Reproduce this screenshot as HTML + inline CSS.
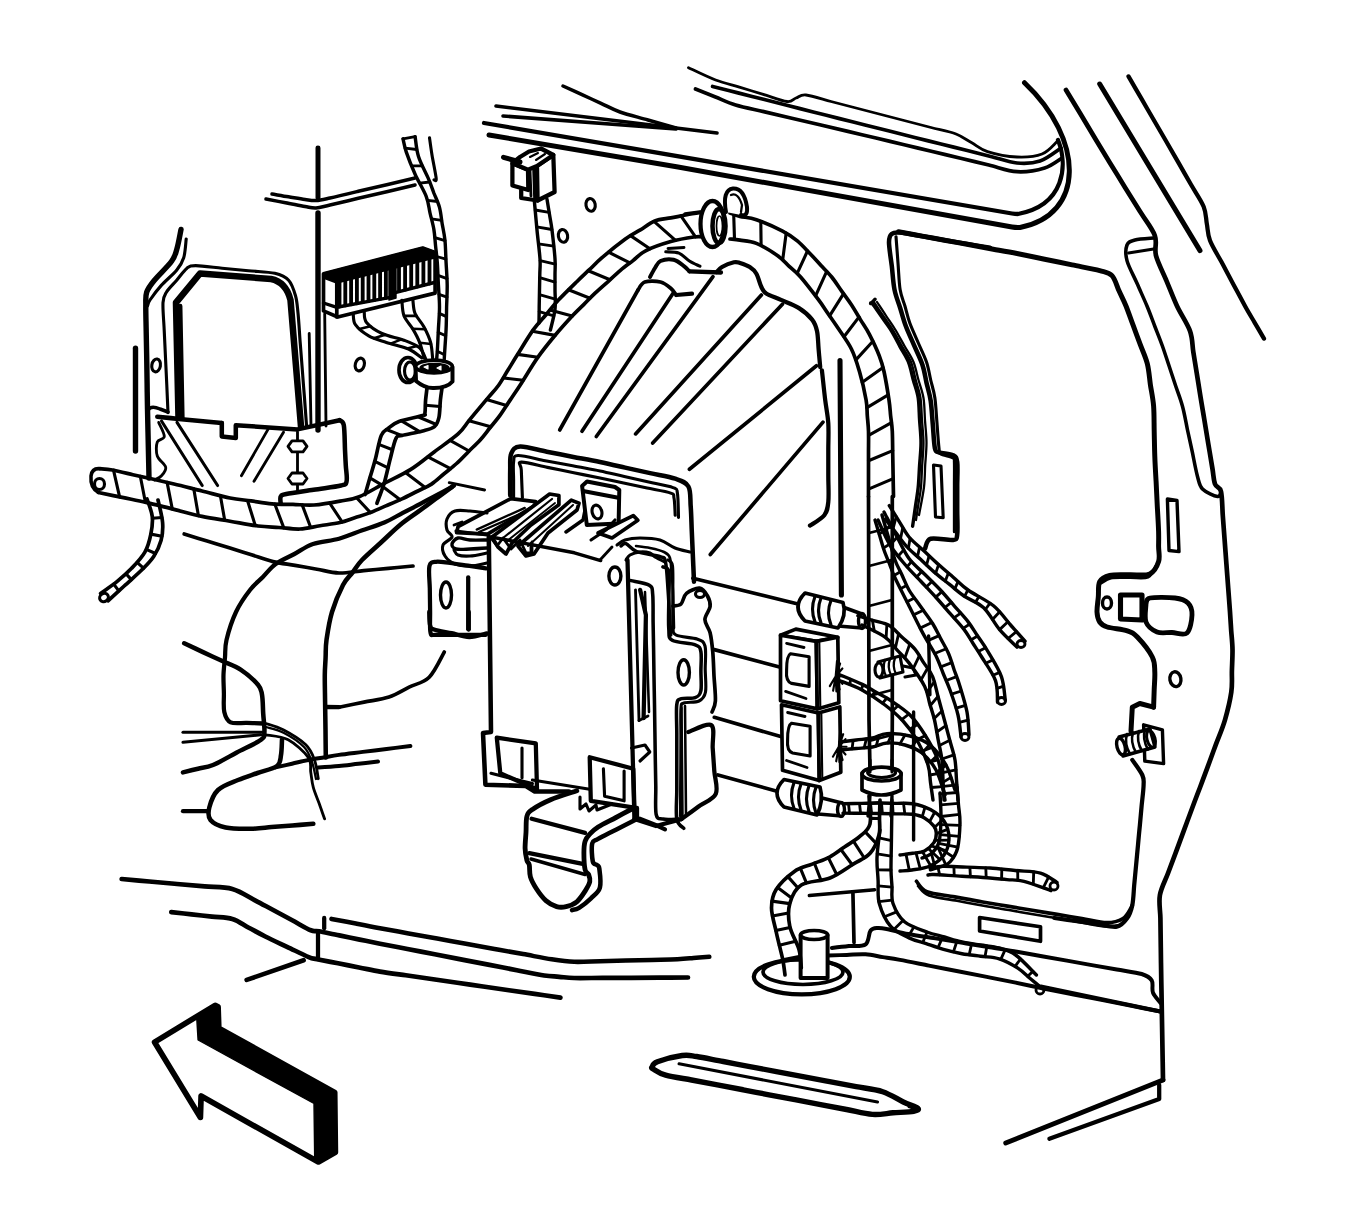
<!DOCTYPE html>
<html><head><meta charset="utf-8"><style>
html,body{margin:0;padding:0;background:#fff;width:1355px;height:1221px;overflow:hidden;font-family:"Liberation Sans",sans-serif;}
svg{display:block}
</style></head><body>
<svg width="1355" height="1221" viewBox="0 0 1355 1221">
<g fill="none" stroke="#000" stroke-linecap="round" stroke-linejoin="round">
<path d="M496.0,106.0 L717.0,133.0" stroke-width="3.55"/>
<path d="M503.0,116.0 L676.0,129.0" stroke-width="3.55"/>
<path d="M563.0,86.0 C566.2,87.4 575.7,91.8 582.0,94.7 C588.3,97.6 594.7,100.4 601.0,103.3 C607.3,106.2 612.2,109.2 620.0,112.0 C627.8,114.8 638.7,117.3 648.0,120.0 C657.3,122.7 671.3,126.7 676.0,128.0" stroke-width="3.55"/>
<path d="M688.5,67.7 C693.0,69.8 707.1,76.8 715.6,80.0 C724.1,83.2 731.5,84.8 739.4,87.2 C747.3,89.6 755.3,91.9 763.2,94.3 C771.1,96.7 781.5,100.9 787.0,101.5 C792.5,102.1 792.8,99.1 796.0,98.0 C799.2,96.9 800.2,94.4 806.0,95.0 C811.8,95.6 822.7,99.3 831.0,101.5 C839.3,103.7 847.7,105.8 856.0,108.0 C864.3,110.2 872.7,112.3 881.0,114.5 C889.3,116.7 897.7,118.8 906.0,121.0 C914.3,123.2 922.7,125.3 931.0,127.5 C939.3,129.7 949.2,131.4 956.0,134.0 C962.8,136.6 966.5,139.9 971.8,142.8 C977.0,145.7 980.0,149.2 987.5,151.6 C995.0,154.0 1007.9,156.6 1017.0,157.0 C1026.1,157.4 1035.3,156.6 1042.0,154.0 C1048.7,151.4 1054.5,143.7 1057.0,141.6" stroke-width="2.84"/>
<path d="M712.6,86.5 C716.8,87.6 729.5,90.8 738.0,92.9 C746.5,95.1 754.9,97.2 763.4,99.3 C771.9,101.5 780.3,103.6 788.8,105.8 C797.3,107.9 805.7,110.0 814.2,112.2 C822.7,114.3 831.1,116.4 839.6,118.6 C848.1,120.7 856.5,122.9 865.0,125.0 C873.5,127.1 881.9,129.2 890.3,131.3 C898.8,133.4 907.2,135.6 915.7,137.7 C924.1,139.8 932.6,141.9 941.0,144.0 C949.4,146.1 957.9,148.2 966.3,150.3 C974.8,152.4 983.2,154.6 991.7,156.7 C1000.1,158.8 1008.9,162.3 1017.0,163.0 C1025.1,163.7 1032.7,163.5 1040.0,161.0 C1047.3,158.5 1057.5,150.2 1061.0,148.0" stroke-width="3.69"/>
<path d="M695.5,89.0 C698.8,90.3 708.9,94.3 715.5,97.0 C722.2,99.7 727.6,102.6 735.6,105.0 C743.6,107.4 754.3,109.4 763.7,111.6 C773.0,113.8 782.4,116.0 791.8,118.2 C801.1,120.4 810.5,122.6 819.8,124.8 C829.2,127.0 838.6,129.2 847.9,131.4 C857.3,133.6 866.6,135.8 876.0,138.0 C885.4,140.2 894.8,142.5 904.2,144.7 C913.6,147.0 923.0,149.2 932.4,151.5 C941.8,153.7 951.2,156.0 960.6,158.2 C970.0,160.5 979.4,162.7 988.8,165.0 C998.2,167.2 1007.7,171.2 1017.0,171.7 C1026.3,172.2 1037.1,170.3 1044.6,168.0 C1052.1,165.7 1059.1,159.7 1062.0,158.0" stroke-width="3.69"/>
<path d="M489,135 L678,167 L1012,227 Q1016,227.7 1020,227.5 C1085,215 1085,140 1024.5,82.7" stroke-width="4.97"/>
<path d="M484,123 L1012,213.5 Q1015,214 1018,214 C1065,205 1068,165 1058,140" stroke-width="4.26"/>
<path d="M1066.0,90.0 C1068.4,94.1 1075.8,106.2 1080.7,114.3 C1085.6,122.4 1090.4,130.6 1095.3,138.7 C1100.2,146.8 1105.1,154.9 1110.0,163.0 C1114.9,171.1 1120.0,179.1 1124.9,187.2 C1129.9,195.2 1134.9,203.3 1139.9,211.3 C1144.8,219.4 1152.1,228.1 1154.8,235.5 C1157.5,242.9 1154.0,248.0 1156.0,255.6 C1158.0,263.1 1163.0,272.4 1166.5,280.8 C1170.0,289.2 1173.1,297.6 1177.0,306.0 C1180.9,314.4 1187.3,323.4 1190.0,331.0 C1192.7,338.6 1192.2,344.9 1193.3,351.9 C1194.4,358.9 1195.6,365.8 1196.7,372.8 C1197.8,379.8 1198.8,386.0 1200.0,393.7 C1201.2,401.4 1202.8,410.4 1204.2,418.8 C1205.6,427.2 1206.9,435.5 1208.3,443.9 C1209.7,452.3 1211.4,462.3 1212.5,469.0 C1213.6,475.7 1213.6,480.2 1215.0,484.0 C1216.4,487.8 1219.7,486.2 1221.0,491.5 C1222.3,496.8 1222.2,507.6 1222.8,515.6 C1223.4,523.6 1224.0,531.7 1224.6,539.7 C1225.2,547.7 1225.8,555.8 1226.4,563.8 C1227.0,571.8 1227.6,579.9 1228.2,587.9 C1228.8,595.9 1229.5,604.9 1230.0,612.0 C1230.5,619.1 1230.8,624.5 1231.2,630.8 C1231.7,637.1 1232.4,642.9 1232.5,649.6 C1232.6,656.3 1232.1,663.8 1231.9,670.9 C1231.7,678.0 1232.5,684.1 1231.3,692.2 C1230.1,700.4 1227.5,711.2 1225.0,719.8 C1222.5,728.4 1219.2,735.7 1216.2,743.6 C1213.3,751.5 1210.2,760.1 1207.5,767.4 C1204.8,774.7 1202.5,780.8 1200.0,787.5 C1197.4,794.1 1195.0,800.5 1192.4,807.5 C1189.8,814.5 1187.0,822.1 1184.3,829.4 C1181.6,836.7 1178.9,844.0 1176.2,851.4 C1173.4,858.7 1170.7,866.0 1168.0,873.3 C1165.3,880.6 1161.2,887.7 1159.9,895.2 C1158.6,902.7 1160.3,910.5 1160.4,918.0 C1160.5,925.5 1160.6,933.0 1160.7,940.5 C1160.8,948.0 1160.9,954.4 1161.0,963.0 C1161.1,971.6 1161.3,982.5 1161.5,992.2 C1161.7,1002.0 1161.8,1011.8 1162.0,1021.5 C1162.2,1031.2 1162.3,1041.0 1162.5,1050.8 C1162.7,1060.5 1162.9,1075.1 1163.0,1080.0" stroke-width="4.69"/>
<path d="M1099.7,84.0 L1200.0,250.6" stroke-width="4.97"/>
<path d="M1128.5,76.4 C1130.6,80.0 1136.8,90.8 1141.0,97.9 C1145.2,105.1 1149.3,112.3 1153.5,119.5 C1157.7,126.6 1161.8,133.8 1166.0,141.0 C1170.2,148.2 1174.4,155.6 1178.6,162.9 C1182.8,170.2 1186.9,177.5 1191.1,184.8 C1195.3,192.1 1201.1,200.2 1203.7,206.7 C1206.3,213.2 1205.8,218.0 1206.8,223.6 C1207.9,229.2 1207.5,234.0 1210.0,240.5 C1212.5,247.0 1217.8,255.1 1221.7,262.3 C1225.6,269.6 1229.4,276.9 1233.3,284.2 C1237.2,291.4 1241.5,299.6 1245.0,306.0 C1248.5,312.4 1251.3,316.9 1254.5,322.3 C1257.7,327.7 1262.4,335.9 1264.0,338.6" stroke-width="4.26"/>
<path d="M1153.6,238.0 C1150.5,238.3 1139.4,238.8 1135.0,240.0 C1130.6,241.2 1128.3,241.6 1127.0,245.0 C1125.7,248.4 1125.3,254.2 1127.0,260.6 C1128.7,267.0 1133.7,275.7 1137.0,283.3 C1140.3,290.9 1144.0,298.9 1147.0,306.0 C1150.0,313.1 1152.1,319.3 1154.7,326.0 C1157.3,332.7 1160.0,339.3 1162.4,346.0 C1164.8,352.7 1166.8,359.3 1169.1,366.0 C1171.3,372.7 1173.5,379.3 1175.7,386.0 C1178.0,392.7 1180.5,398.8 1182.4,406.0 C1184.4,413.2 1185.8,421.6 1187.4,429.5 C1189.1,437.3 1190.8,445.1 1192.5,452.9 C1194.1,460.8 1195.8,470.4 1197.5,476.4 C1199.2,482.4 1199.2,485.6 1202.5,489.0 C1205.8,492.4 1214.4,496.1 1217.5,496.5 C1220.6,496.9 1220.4,492.3 1221.0,491.5" stroke-width="3.55"/>
<path d="M1128.5,253.0 L1153.6,249.0" stroke-width="2.84"/>
<path d="M898.5,231.8 C902.5,232.5 914.3,234.7 922.2,236.1 C930.1,237.6 938.0,239.0 945.9,240.5 C953.8,241.9 961.7,243.4 969.6,244.8 C977.5,246.3 985.4,247.7 993.3,249.2 C1001.2,250.6 1008.5,251.8 1017.0,253.5 C1025.5,255.2 1035.4,257.3 1044.6,259.2 C1053.8,261.1 1062.9,263.0 1072.1,264.9 C1081.3,266.8 1093.1,268.8 1099.7,270.6 C1106.3,272.4 1108.8,272.2 1112.0,275.6 C1115.2,279.0 1116.7,285.7 1119.0,290.8 C1121.3,295.9 1123.7,300.3 1126.0,306.0 C1128.3,311.7 1130.7,318.8 1133.1,325.2 C1135.5,331.6 1137.8,338.0 1140.2,344.4 C1142.6,350.8 1145.6,356.9 1147.3,363.6 C1149.0,370.3 1149.4,377.7 1150.4,384.8 C1151.5,391.9 1153.0,398.3 1153.6,406.0 C1154.2,413.7 1154.0,422.8 1154.2,431.2 C1154.4,439.6 1154.5,448.0 1154.8,456.4 C1155.1,464.8 1155.6,473.1 1156.1,481.5 C1156.5,489.8 1156.9,498.2 1157.3,506.5 C1157.8,514.9 1158.4,524.9 1158.6,531.6 C1158.8,538.3 1158.6,541.6 1158.6,546.6 C1158.6,551.6 1160.1,557.0 1158.6,561.6 C1157.1,566.2 1154.6,571.8 1149.8,574.0 C1145.0,576.2 1136.4,574.5 1129.8,574.7 C1123.1,574.9 1114.7,574.2 1109.7,575.4 C1104.7,576.6 1101.6,578.1 1099.7,581.7 C1097.8,585.3 1098.8,591.8 1098.3,596.9 C1097.9,601.9 1096.8,607.8 1097.0,612.0 C1097.2,616.2 1098.0,619.5 1099.7,622.0 C1101.4,624.5 1102.6,625.5 1107.2,627.0 C1111.8,628.5 1122.3,629.1 1127.3,630.8 C1132.3,632.5 1133.1,632.6 1137.3,637.0 C1141.5,641.4 1149.4,651.2 1152.3,657.0 C1155.2,662.8 1154.5,666.6 1154.8,672.0 C1155.1,677.4 1154.4,683.7 1154.2,689.6 C1154.0,695.5 1153.7,704.3 1153.6,707.2" stroke-width="4.97"/>
<path d="M1153.6,707.2 L1139.8,703.5 L1132.3,707.2 L1131.0,731.0" stroke-width="4.97"/>
<path d="M1101.0,583.0 C1102.7,582.2 1106.2,578.9 1111.0,578.0 C1115.8,577.1 1123.3,577.7 1129.5,577.5 C1135.7,577.3 1143.6,578.9 1148.0,577.0 C1152.4,575.1 1154.7,567.8 1156.0,566.0" stroke-width="3.12"/>
<path d="M1132.3,759.9 C1134.0,762.4 1140.4,770.8 1142.3,775.0 C1144.2,779.2 1143.7,780.0 1143.6,785.0 C1143.5,790.0 1142.4,798.3 1141.7,805.0 C1141.1,811.7 1140.5,818.3 1139.9,825.0 C1139.2,831.7 1138.6,838.3 1138.0,845.0 C1137.4,851.7 1136.7,858.4 1136.1,865.1 C1135.5,871.8 1134.8,878.4 1134.2,885.1 C1133.6,891.8 1133.5,899.7 1132.3,905.2 C1131.1,910.7 1129.9,914.4 1127.3,918.0 C1124.7,921.6 1122.0,925.7 1116.8,926.7 C1111.6,927.7 1102.9,924.8 1096.0,923.8 C1089.1,922.8 1082.1,921.9 1075.2,920.9 C1068.3,919.9 1057.9,918.5 1054.4,918.0" stroke-width="4.26"/>
<path d="M318.0,148.0 L318.0,198.0" stroke-width="4.97"/>
<path d="M318.0,213.0 L318.0,430.0" stroke-width="5.40"/>
<path d="M309.2,333.5 L311.0,426.0" stroke-width="2.84"/>
<path d="M324.7,313.8 L326.0,426.0" stroke-width="2.84"/>
<path d="M135.5,348.2 L135.5,451.0" stroke-width="5.40"/>
<path d="M272.0,194.0 C274.8,194.5 283.0,195.8 288.5,196.8 C294.0,197.7 300.4,198.9 305.0,199.5 C309.6,200.1 311.8,200.8 316.0,200.5 C320.2,200.2 322.9,199.5 330.0,198.0 C337.1,196.5 348.9,193.6 358.3,191.3 C367.8,189.1 377.2,186.9 386.7,184.7 C396.1,182.4 410.3,179.1 415.0,178.0" stroke-width="3.55"/>
<path d="M266.0,199.0 C269.2,199.6 279.0,201.5 285.5,202.8 C292.0,204.0 299.9,205.6 305.0,206.5 C310.1,207.4 311.8,208.2 316.0,208.0 C320.2,207.8 322.9,206.6 330.0,205.0 C337.1,203.4 348.9,200.6 358.3,198.3 C367.8,196.1 377.2,193.9 386.7,191.7 C396.1,189.4 410.3,186.1 415.0,185.0" stroke-width="3.55"/>
<path d="M181.0,229.5 C180.3,232.8 178.4,243.9 176.8,249.2 C175.2,254.5 175.3,256.1 171.6,261.3 C167.9,266.5 158.6,275.1 154.4,280.2 C150.2,285.3 148.1,287.9 146.7,292.2 C145.3,296.5 145.9,299.4 145.8,306.0 C145.7,312.6 146.1,323.2 146.2,331.8 C146.4,340.3 146.5,348.9 146.7,357.5 C146.8,366.1 146.9,374.7 147.1,383.2 C147.2,391.8 147.3,400.9 147.5,409.0 C147.7,417.1 147.8,424.3 148.0,432.0 C148.2,439.7 148.3,447.3 148.5,455.0 C148.7,462.7 148.9,474.2 149.0,478.0" stroke-width="5.40"/>
<path d="M186.2,239.0 C185.8,242.1 185.3,252.6 183.7,257.8 C182.1,263.0 180.5,265.4 176.8,270.0 C173.1,274.6 165.8,280.4 161.3,285.4 C156.8,290.4 152.3,296.6 150.0,300.0 C147.7,303.4 147.9,305.0 147.5,306.0" stroke-width="3.12"/>
<path d="M168.0,412.7 C167.8,408.1 167.2,394.4 166.8,385.2 C166.3,376.0 165.9,366.8 165.5,357.6 C165.1,348.5 164.7,339.3 164.2,330.1 C163.8,320.9 162.6,308.9 163.0,302.6 C163.4,296.3 164.1,295.9 166.4,292.2 C168.7,288.5 173.3,284.2 176.7,280.2 C180.1,276.2 183.8,270.6 187.0,268.2 C190.2,265.8 189.9,265.6 195.7,265.6 C201.5,265.6 213.3,267.3 222.1,268.2 C230.9,269.0 239.6,269.9 248.4,270.7 C257.2,271.6 268.1,271.7 274.8,273.3 C281.5,274.9 285.2,276.5 288.6,280.2 C292.1,283.9 293.9,290.2 295.5,295.7 C297.1,301.2 297.2,305.4 298.0,313.0 C298.8,320.6 299.4,331.9 300.1,341.4 C300.9,350.8 301.6,360.2 302.3,369.7 C303.0,379.1 303.7,388.6 304.5,398.0 C305.2,407.5 306.2,421.7 306.6,426.4" stroke-width="3.12"/>
<path d="M178.5,417.8 L176,302.6 L200,273.5 L271,279 Q286,282 290.5,300 L301,426.4" stroke-width="6.53"/>
<path d="M182.5,417.8 L180.3,306" stroke-width="4.26"/>
<ellipse cx="156.1" cy="365.4" rx="4.3" ry="6.5" stroke-width="3.12" transform="rotate(10 156.1 365.4)"/>
<path d="M148,410 Q151,405 160,409 L168,412" stroke-width="3.55"/>
<path d="M157.3,416.8 C160.9,417.1 171.6,418.2 178.8,418.9 C186.0,419.6 193.1,420.2 200.3,420.9 C207.5,421.6 218.2,422.7 221.8,423.0" stroke-width="4.54"/>
<path d="M221.8,423.0 L221.8,436.5 L235.8,437.9 L235.8,425.2 L297.5,429.4 L339.6,420.2" stroke-width="4.54"/>
<path d="M339.6,420.2 C340.3,421.0 342.9,420.2 343.8,425.2 C344.7,430.2 344.7,443.3 345.0,450.0 C345.3,456.7 345.5,460.4 345.8,465.6 C346.1,470.9 347.4,478.0 346.6,481.3 C345.8,484.6 346.5,484.1 341.0,485.5 C335.5,486.9 322.8,488.3 313.6,489.8 C304.5,491.2 291.8,492.8 286.3,494.0 C280.8,495.2 281.6,495.1 280.7,496.7 C279.8,498.3 280.7,502.6 280.7,503.8" stroke-width="4.54"/>
<path d="M158.7,422.4 C159.6,424.8 164.5,433.2 164.3,436.5 C164.1,439.8 158.5,438.8 157.3,442.0 C156.1,445.2 155.9,451.8 157.3,456.0 C158.7,460.2 165.0,464.0 165.7,467.3 C166.4,470.6 163.4,473.6 161.5,475.7 C159.6,477.8 155.7,479.3 154.5,480.0" stroke-width="2.84"/>
<path d="M161.5,421.0 L202.2,485.5" stroke-width="3.12"/>
<path d="M177.0,422.4 L217.6,485.5" stroke-width="3.12"/>
<path d="M268.0,429.4 L241.4,475.7" stroke-width="2.84"/>
<path d="M283.5,432.2 L254.0,481.3" stroke-width="2.84"/>
<path d="M297.5,432.0 L297.5,492.5" stroke-width="2.84"/>
<path d="M288.0,446.3 L292.0,440.8 L303.0,440.8 L307.0,446.3 L303.0,451.8 L292.0,451.8 Z" stroke-width="2.84" fill="#fff"/>
<path d="M288.0,478.5 L292.0,473.0 L303.0,473.0 L307.0,478.5 L303.0,484.0 L292.0,484.0 Z" stroke-width="2.84" fill="#fff"/>
<path d="M99.8,468.7 C101.9,468.9 106.9,469.0 112.4,470.0 C117.9,471.0 126.1,473.1 132.9,474.7 C139.8,476.2 146.6,477.8 153.5,479.3 C160.3,480.9 165.9,482.1 174.0,484.0 C182.1,485.9 192.7,488.7 202.0,491.0 C211.3,493.3 221.8,496.4 230.0,498.0 C238.2,499.6 244.0,499.9 251.0,500.9 C258.0,501.9 265.0,503.2 272.0,503.8 C279.0,504.4 286.0,504.2 293.0,504.4 C300.0,504.6 306.2,505.6 314.0,505.0 C321.8,504.4 332.5,502.5 340.0,501.1 C347.5,499.7 351.8,499.6 359.2,496.7 C366.6,493.8 375.7,487.9 384.3,483.4 C392.9,478.8 402.4,474.7 410.8,469.4 C419.2,464.1 426.6,457.6 434.5,451.7 C442.4,445.8 452.5,438.9 458.1,433.9 C463.8,428.8 465.0,425.6 468.4,421.4 C471.8,417.2 475.3,413.0 478.7,408.9 C482.1,404.8 485.4,400.9 488.8,396.9 C492.1,393.0 495.6,389.5 498.8,385.0 C502.0,380.5 504.9,375.0 508.0,370.1 C511.1,365.1 513.0,361.8 517.2,355.1 C521.4,348.4 528.4,336.6 533.2,329.9 C538.0,323.2 541.6,320.0 545.8,315.0 C550.0,310.0 553.2,305.7 558.4,300.1 C563.6,294.6 571.6,286.8 576.8,281.7 C582.0,276.6 585.2,273.7 589.4,269.7 C593.6,265.7 596.1,262.8 602.0,257.7 C607.9,252.6 618.7,243.9 625.0,239.3 C631.3,234.7 634.9,233.2 639.9,230.2 C644.9,227.1 649.6,223.0 654.8,221.0 C660.0,219.0 665.5,218.9 670.8,217.9 C676.2,216.9 681.2,215.8 686.9,214.8 C692.6,213.8 702.2,212.3 705.2,211.8" stroke-width="3.69"/><path d="M98.4,492.5 C102.4,493.3 114.3,495.8 122.2,497.4 C130.1,499.1 137.4,500.4 146.0,502.4 C154.6,504.4 164.7,507.1 174.0,509.4 C183.3,511.7 192.7,514.4 202.0,516.4 C211.3,518.4 220.7,519.6 230.0,521.2 C239.3,522.8 249.8,525.0 258.0,526.0 C266.2,527.0 272.0,527.0 279.0,527.5 C286.0,528.0 293.2,529.3 300.0,529.0 C306.8,528.7 313.3,526.8 320.0,525.8 C326.7,524.7 334.2,523.8 340.0,522.5 C345.8,521.2 349.8,519.3 354.8,517.7 C359.7,516.1 364.3,514.9 369.5,512.9 C374.7,510.9 380.3,508.2 385.8,505.9 C391.2,503.6 396.8,501.3 402.0,498.9 C407.2,496.5 411.8,494.0 416.8,491.5 C421.7,489.0 426.9,487.1 431.5,484.1 C436.1,481.2 439.9,477.2 444.1,473.8 C448.2,470.4 452.5,467.2 456.6,463.5 C460.7,459.8 464.5,455.6 468.4,451.7 C472.3,447.8 476.6,443.8 480.2,439.9 C483.8,436.0 486.6,432.0 489.8,428.0 C493.0,424.1 495.9,421.0 499.4,416.2 C502.9,411.4 506.8,405.0 510.6,399.4 C514.3,393.9 517.2,389.7 521.7,382.7 C526.2,375.7 532.4,365.0 537.8,357.4 C543.2,349.8 548.2,343.7 553.9,336.8 C559.6,329.9 567.2,321.5 572.2,316.1 C577.2,310.7 579.8,308.5 583.7,304.6 C587.5,300.8 591.1,297.0 595.1,293.2 C599.1,289.4 603.5,285.6 607.8,281.8 C612.0,277.9 616.2,273.8 620.4,270.3 C624.6,266.8 628.8,263.8 633.0,260.6 C637.2,257.3 639.3,254.0 645.6,250.8 C651.9,247.6 662.8,243.9 670.8,241.6 C678.8,239.3 688.1,237.8 693.8,237.0 C699.5,236.2 703.1,237.0 705.0,237.0" stroke-width="3.69"/><path d="M113.5,470.2 L119.6,496.9 M140.3,476.3 L145.4,502.3 M167.1,482.4 L172.3,509.0 M193.8,488.9 L198.4,515.6 M220.4,495.8 L224.7,520.3 M247.5,500.5 L255.3,525.6 M274.8,504.0 L283.8,527.9 M302.2,504.9 L310.7,527.5 M329.6,503.0 L342.2,522.0 M356.6,497.7 L370.4,512.6 M381.0,485.2 L400.2,499.7 M405.4,472.6 L425.2,487.5 M427.9,456.8 L450.5,468.7 M450.0,440.4 L469.1,451.0 M469.0,420.7 L490.8,426.8 M486.5,399.6 L506.6,405.4 M503.3,377.9 L523.3,380.3 M517.6,354.4 L537.9,357.3 M532.3,331.2 L555.1,335.4 M549.9,310.0 L572.2,316.1 M568.5,289.8 L590.0,298.2 M588.3,270.7 L610.0,279.7 M608.6,252.2 L629.9,262.9 M630.5,235.6 L649.9,248.8 M654.0,221.3 L675.5,240.4 M680.9,215.9 L695.5,236.8 " stroke-width="3.12"/>
<path d="M99.8,468.7 Q92,468 91,476 Q90,488 98.4,492.5" stroke-width="3.55"/>
<ellipse cx="99.5" cy="484" rx="5" ry="5.5" stroke-width="3.12"/>
<path d="M730.0,213.0 C731.7,213.6 735.6,215.3 740.0,216.4 C744.4,217.5 749.3,217.2 756.4,219.7 C763.5,222.1 775.8,227.6 782.6,231.1 C789.4,234.6 792.7,237.1 797.3,240.9 C801.9,244.7 806.4,249.9 810.4,254.0 C814.4,258.1 817.5,261.7 821.0,265.5 C824.6,269.3 828.3,272.8 831.7,277.0 C835.1,281.2 838.3,286.3 841.5,290.9 C844.8,295.5 848.3,300.0 851.4,304.8 C854.5,309.6 857.4,314.6 860.4,319.6 C863.4,324.5 866.3,328.3 869.4,334.3 C872.5,340.3 876.8,349.3 879.2,355.6 C881.7,361.9 882.5,364.6 884.1,372.0 C885.7,379.4 887.9,392.7 889.0,400.0 C890.1,407.3 890.1,410.4 890.6,415.6 C891.2,420.9 892.0,425.1 892.3,431.3 C892.6,437.5 892.6,445.8 892.7,453.0 C892.8,460.3 893.0,467.5 893.1,474.8 C893.2,482.0 893.4,492.9 893.5,496.5" stroke-width="3.69"/><path d="M730.0,239.0 C731.7,239.2 735.6,239.4 740.0,240.1 C744.4,240.8 750.1,240.8 756.4,243.4 C762.7,246.0 772.2,251.9 777.7,255.7 C783.2,259.5 785.3,262.8 789.2,266.4 C793.0,269.9 795.7,271.4 800.6,277.0 C805.5,282.6 814.1,293.9 818.6,299.9 C823.1,305.9 824.6,308.6 827.6,313.0 C830.6,317.4 832.6,320.1 836.6,326.1 C840.6,332.1 847.6,341.4 851.4,349.0 C855.2,356.6 857.1,363.5 859.6,372.0 C862.1,380.5 864.8,392.7 866.1,400.0 C867.4,407.3 866.9,410.4 867.3,415.6 C867.7,420.9 868.3,425.1 868.5,431.3 C868.7,437.5 868.5,445.8 868.5,453.0 C868.5,460.3 868.5,467.5 868.5,474.8 C868.5,482.0 868.5,492.9 868.5,496.5" stroke-width="3.69"/><path d="M733.7,214.4 L734.5,239.4 M760.8,221.3 L761.1,245.6 M786.2,233.0 L782.7,259.8 M807.5,251.0 L797.2,273.4 M826.7,271.4 L815.6,295.9 M843.6,293.7 L829.6,315.9 M858.9,317.1 L844.0,336.8 M872.9,341.3 L855.9,359.9 M883.0,367.4 L862.3,382.3 M888.2,394.9 L867.0,407.7 M891.5,422.7 L868.6,435.4 M892.7,450.6 L868.5,460.7 M893.2,478.6 L868.5,489.1 " stroke-width="3.12"/>
<path d="M427.0,388.0 C426.8,390.0 426.0,395.8 425.6,400.0 C425.2,404.2 425.4,410.7 424.9,413.3 C424.4,415.9 427.0,414.1 422.7,415.5 C418.4,416.9 404.7,419.3 399.0,421.4 C393.3,423.5 391.6,425.7 388.7,428.0 C385.8,430.3 383.5,430.2 381.3,435.4 C379.1,440.6 377.2,452.1 375.4,459.0 C373.6,465.9 372.0,470.8 370.2,476.8 C368.5,482.7 366.0,491.5 365.1,494.5" stroke-width="3.69"/><path d="M442.0,388.0 C441.7,390.0 440.9,395.1 440.4,400.0 C439.9,404.9 439.9,413.3 438.9,417.7 C437.9,422.1 437.2,424.4 434.5,426.6 C431.8,428.8 428.1,429.5 422.7,431.0 C417.3,432.5 406.4,434.2 402.0,435.4 C397.6,436.6 398.0,434.5 396.0,438.4 C394.0,442.3 392.1,451.6 390.2,459.0 C388.2,466.4 386.5,475.3 384.3,482.7 C382.1,490.1 378.1,499.9 376.9,503.3" stroke-width="3.69"/><path d="M425.4,405.2 L440.0,406.5 M418.0,416.7 L436.3,424.5 M401.1,420.7 L419.6,431.7 M386.4,429.5 L401.4,435.4 M378.7,444.4 L392.5,449.7 M374.8,461.3 L388.1,467.8 M369.9,477.9 L383.3,485.8 " stroke-width="3.12"/>
<path d="M403.0,138.8 C403.6,141.0 404.3,146.2 406.3,152.1 C408.3,158.0 411.8,166.8 415.1,174.2 C418.4,181.6 423.7,189.9 426.2,196.4 C428.7,202.9 428.8,207.5 430.0,213.0 C431.3,218.5 433.0,224.1 433.9,229.6 C434.8,235.1 435.0,240.6 435.6,246.1 C436.2,251.7 436.8,256.2 437.3,262.7 C437.8,269.1 438.0,277.5 438.4,284.9 C438.8,292.2 439.5,299.6 439.5,307.0 C439.5,314.4 438.8,321.7 438.4,329.1 C438.0,336.5 437.7,345.3 437.3,351.2 C436.9,357.1 436.4,362.3 436.2,364.5" stroke-width="3.41"/><path d="M415.1,136.6 C415.7,139.9 416.3,149.5 418.5,156.5 C420.7,163.5 425.8,172.6 428.4,178.7 C431.0,184.8 432.1,188.3 433.9,193.1 C435.8,197.8 438.1,202.2 439.5,207.4 C440.9,212.6 441.3,218.5 442.2,224.0 C443.2,229.5 444.4,234.1 445.0,240.6 C445.6,247.1 445.7,255.4 446.1,262.8 C446.5,270.1 447.1,277.5 447.2,284.9 C447.3,292.3 446.8,299.6 446.6,307.0 C446.5,314.4 446.4,322.5 446.1,329.1 C445.8,335.7 445.4,340.9 445.0,346.8 C444.6,352.7 444.1,361.6 443.9,364.5" stroke-width="3.41"/><path d="M405.1,148.1 L416.8,149.5 M411.6,165.9 L422.3,165.9 M419.6,183.1 L429.8,182.0 M427.5,200.3 L437.5,201.5 M431.5,218.9 L441.7,220.3 M434.9,237.6 L445.0,240.7 M436.7,256.5 L445.9,259.1 M438.0,275.4 L447.0,278.6 M439.0,294.4 L447.0,297.1 M439.3,313.4 L446.4,316.6 M438.2,332.4 L445.7,335.8 M437.3,351.3 L444.5,354.8 " stroke-width="2.84"/>
<path d="M403.0,138.8 L415.1,136.6" stroke-width="2.84"/>
<path d="M429.5,137.7 C429.9,140.6 430.9,148.2 432.0,155.0 C433.1,161.8 435.9,174.6 436.2,178.7 C436.5,182.8 434.4,179.6 434.0,179.8" stroke-width="3.12"/>
<path d="M323.5,273.7 L422.7,248.0 L435.1,252.4 L435.1,293.1 L337.7,317.0 L323.5,310.9 Z" stroke-width="3.69" fill="#fff"/>
<path d="M323.5,273.2 L422.7,247.5 L435.1,252.0 L434.3,258.0 L336.8,283.0 L323.5,278.0 Z" stroke-width="1.42" fill="#000"/>
<path d="M336.8,282.5 L336.8,317.0" stroke-width="3.69"/>
<path d="M323.5,303.0 L336.8,307.3 L389.0,297.6" stroke-width="3.41"/>
<path d="M396.2,292.3 L434.3,282.5" stroke-width="3.41"/>
<path d="M339.5,281.3 L339.5,306.5 M345.3,279.8 L345.3,305.4 M351.1,278.4 L351.1,304.3 M356.9,276.9 L356.9,303.3 M362.7,275.4 L362.7,302.2 M368.5,273.9 L368.5,301.1 M374.3,272.4 L374.3,300.0 M380.1,271.0 L380.1,298.9 M385.9,269.5 L385.9,297.9 M399.0,264.9 L399.0,291.2 M405.1,263.6 L405.1,289.7 M411.2,262.3 L411.2,288.1 M417.3,261.0 L417.3,286.6 M423.4,259.7 L423.4,285.0 M429.5,258.5 L429.5,283.5 " stroke-width="3.83"/>
<path d="M389.0,268.0 L396.0,266.0 L396.0,298.0 L389.0,300.0 Z" stroke-width="1.42" fill="#000"/>
<path d="M353.2,313.6 C353.6,315.5 352.8,321.0 355.4,324.7 C358.0,328.4 363.5,332.9 368.7,335.8 C373.9,338.8 379.8,340.2 386.4,342.4 C393.0,344.6 402.6,346.4 408.5,349.0 C414.4,351.6 419.6,356.4 421.8,357.9" stroke-width="3.12"/><path d="M364.2,311.4 C364.6,313.2 363.5,318.8 366.5,322.5 C369.5,326.2 375.8,330.6 382.0,333.5 C388.2,336.4 397.7,337.8 404.0,340.2 C410.3,342.6 415.9,344.6 419.6,347.9 C423.3,351.2 425.1,358.0 426.2,360.0" stroke-width="3.12"/><path d="M359.4,329.1 L370.4,326.3 M374.0,338.3 L385.1,334.7 M390.6,343.6 L401.5,339.4 M407.3,348.5 L417.1,346.1 " stroke-width="2.56"/>
<path d="M401.9,300.4 C402.2,303.0 402.2,311.0 404.0,315.8 C405.8,320.6 410.3,324.7 412.9,329.1 C415.5,333.5 417.8,337.6 419.6,342.4 C421.5,347.2 423.3,355.3 424.0,357.9" stroke-width="3.12"/><path d="M412.9,300.4 C413.3,302.6 413.2,309.2 415.1,313.6 C417.0,318.0 421.4,322.1 424.0,326.9 C426.6,331.7 429.1,336.9 430.6,342.4 C432.1,347.9 432.4,357.1 432.8,360.0" stroke-width="3.12"/><path d="M404.0,315.9 L416.3,315.9 M412.7,328.8 L425.2,329.2 M419.8,342.8 L431.0,344.1 " stroke-width="2.56"/>
<ellipse cx="408" cy="370" rx="9" ry="12.5" stroke-width="3.69" fill="#fff"/>
<ellipse cx="410" cy="371" rx="5.5" ry="9" stroke-width="3.12"/>
<path d="M415.5,366 L416,381 Q425,388.5 434,388 Q447,388 452.5,381.5 L452.5,367" stroke-width="3.98" fill="#fff"/>
<ellipse cx="434" cy="366.5" rx="18.3" ry="6.3" stroke-width="3.69" fill="#fff"/>
<ellipse cx="434.5" cy="368" rx="14.5" ry="4.6" stroke-width="1.42" fill="#000"/>
<path d="M424,367 L428,365.5 L428,369 Z M437,368 L441,366 L441,370 Z" stroke-width="1.14" fill="#fff" stroke="#fff"/>
<ellipse cx="359.8" cy="364.5" rx="4.5" ry="6.5" stroke-width="3.12" transform="rotate(15 359.8 364.5)"/>
<path d="M512.4,163.2 L528.0,169.7 L528.3,190.0 L512.4,185.5 Z" stroke-width="4.26" fill="#fff"/>
<path d="M537.0,166.0 L553.3,155.0 L554.6,192.0 L537.6,200.5 Z" stroke-width="4.26" fill="#fff"/>
<path d="M512.4,163.2 L520.0,157.0 L529.0,151.5 L541.0,148.5 L553.3,155.0 L537.0,166.0 L528.0,169.7 Z" stroke-width="4.26" fill="#fff"/>
<path d="M503.5,157.3 L520.0,162.0" stroke-width="4.97"/>
<path d="M521.2,190.0 L521.2,198.0 L537.6,200.5" stroke-width="4.26"/>
<path d="M530.0,171.0 L531.0,196.0" stroke-width="2.84"/>
<path d="M534.0,169.0 L535.0,200.0" stroke-width="3.55"/>
<path d="M530.0,157.0 L538.0,153.0" stroke-width="2.13"/>
<path d="M536.0,160.0 L545.0,154.0" stroke-width="2.13"/>
<path d="M534.4,201.5 C534.8,206.2 536.1,220.4 537.0,230.0 C537.9,239.6 539.5,251.4 540.0,258.8 C540.5,266.2 539.8,269.2 539.8,274.4 C539.7,279.6 539.6,284.6 539.5,290.0 C539.4,295.4 539.3,301.0 539.2,306.5 C539.2,312.0 539.0,320.2 539.0,323.0" stroke-width="3.41"/><path d="M547.0,199.2 C547.4,201.8 548.7,209.5 549.5,214.6 C550.3,219.7 551.1,222.6 552.0,230.0 C552.9,237.4 554.5,251.4 555.0,258.8 C555.5,266.2 555.0,269.2 555.0,274.4 C555.0,279.6 555.0,284.2 555.0,290.0 C555.0,295.8 555.8,302.6 555.0,309.3 C554.2,316.0 551.2,326.6 550.4,330.0" stroke-width="3.41"/><path d="M535.2,210.0 L549.1,212.4 M536.7,226.9 L551.9,229.5 M538.5,243.8 L553.8,246.1 M540.1,260.7 L555.2,264.1 M539.7,277.7 L555.0,282.1 M539.4,294.7 L555.3,299.2 M539.2,311.7 L553.9,315.9 " stroke-width="2.84"/>
<ellipse cx="590.6" cy="204.9" rx="4.6" ry="6.4" stroke-width="3.12" transform="rotate(-10 590.6 204.9)"/>
<ellipse cx="563" cy="235.9" rx="4.6" ry="6.4" stroke-width="3.12" transform="rotate(-10 563 235.9)"/>
<path d="M726,212 Q722,190 733,188.5 Q744,188 747,207 Q748,217 741,215" stroke-width="3.98" fill="#fff"/>
<path d="M731,195 Q738,192 742,205 L741,212" stroke-width="2.27"/>
<ellipse cx="712.5" cy="224" rx="12" ry="23" stroke-width="4.26" fill="#fff"/>
<ellipse cx="719" cy="226" rx="6.5" ry="17" stroke-width="4.54"/>
<ellipse cx="719.5" cy="226" rx="3" ry="10" stroke-width="1.70"/>
<path d="M700.0,212.0 L685.0,214.0" stroke-width="3.69"/>
<path d="M716.9,272.0 C717.8,271.2 719.2,268.6 722.0,267.0 C724.8,265.4 730.9,263.0 733.9,262.3 C736.9,261.6 737.4,262.2 740.0,263.0 C742.6,263.8 747.1,265.3 749.8,267.1 C752.5,268.9 754.5,270.4 756.4,273.7 C758.3,277.0 759.7,283.5 761.3,286.8 C762.9,290.1 762.9,291.2 766.2,293.4 C769.5,295.6 775.5,297.4 781.0,299.9 C786.5,302.3 793.8,304.8 799.0,308.1 C804.2,311.4 809.1,315.8 812.1,319.6 C815.1,323.4 815.9,326.1 817.0,331.0 C818.1,335.9 818.1,343.0 818.6,349.0 C819.1,355.0 819.9,364.0 820.2,367.0" stroke-width="4.26"/>
<path d="M821.9,370.3 C822.5,375.2 824.1,391.1 825.2,400.0 C826.3,408.9 827.8,415.1 828.3,423.4 C828.8,431.7 828.3,440.9 828.3,449.6 C828.3,458.3 828.3,467.1 828.3,475.8 C828.3,484.5 829.0,495.4 828.3,502.0 C827.6,508.6 827.3,511.3 824.3,515.2 C821.2,519.1 812.4,523.9 810.0,525.6" stroke-width="4.26"/>
<path d="M650.0,277.0 C650.8,275.5 653.2,270.7 655.0,268.0 C656.8,265.3 657.4,262.4 660.5,261.0 C663.6,259.6 669.7,258.8 673.6,259.7 C677.5,260.6 681.4,264.2 684.0,266.2 C686.6,268.1 688.5,270.5 689.4,271.4" stroke-width="3.98"/>
<path d="M689.4,271.4 L721.0,272.5" stroke-width="4.26"/>
<path d="M638.0,290.0 C639.1,288.7 641.0,283.3 644.8,282.0 C648.5,280.7 656.1,280.9 660.5,282.0 C664.9,283.1 668.4,286.3 671.0,288.5 C673.6,290.7 675.4,293.9 676.3,295.0" stroke-width="3.69"/>
<path d="M676.3,295.0 L692.0,293.7" stroke-width="4.26"/>
<path d="M665.8,251.8 C668.0,252.0 675.0,251.6 678.9,253.1 C682.8,254.6 685.9,258.8 689.4,261.0 C692.9,263.2 698.1,265.3 699.9,266.2" stroke-width="3.12"/>
<path d="M668.0,248.5 L684.0,247.5" stroke-width="2.84"/>
<path d="M559.7,430.0 L638.0,290.0" stroke-width="3.69"/>
<path d="M582.0,431.3 L673.6,292.4" stroke-width="3.69"/>
<path d="M596.3,436.5 L713.0,276.7" stroke-width="3.69"/>
<path d="M635.6,433.9 L761.4,295.0" stroke-width="3.69"/>
<path d="M652.7,443.1 L782.4,304.2" stroke-width="3.69"/>
<path d="M689.4,469.3 L816.5,365.8" stroke-width="3.69"/>
<path d="M710.3,554.5 L823.0,422.1" stroke-width="3.69"/>
<path d="M840.0,360.5 L841.4,595.0" stroke-width="5.11"/>
<path d="M510.2,495.3 C510.2,491.1 510.0,477.0 510.2,470.0 C510.4,463.0 509.6,457.2 511.3,453.3 C513.0,449.4 514.3,446.9 520.2,446.6 C526.1,446.3 537.9,450.0 546.8,451.7 C555.7,453.4 564.5,455.2 573.4,456.9 C582.3,458.6 591.4,460.2 600.0,462.0 C608.6,463.8 616.7,465.7 625.1,467.6 C633.4,469.4 641.8,471.3 650.1,473.1 C658.5,475.0 668.8,476.5 675.2,478.7 C681.6,480.9 685.8,481.9 688.4,486.5 C691.0,491.1 690.1,498.9 690.7,506.4 C691.3,513.9 691.4,523.1 691.8,531.5 C692.2,539.9 692.5,548.2 692.9,556.6 C693.3,565.0 693.8,577.5 694.0,581.7" stroke-width="4.54"/>
<path d="M513.6,497.0 C513.6,494.1 513.6,485.3 513.6,479.5 C513.6,473.7 512.9,466.0 513.6,462.0 C514.3,458.0 512.7,455.7 518.0,455.5 C523.3,455.3 536.2,458.9 545.3,460.7 C554.4,462.4 563.6,464.1 572.7,465.8 C581.8,467.6 591.4,469.2 600.0,471.0 C608.6,472.8 616.2,474.7 624.3,476.5 C632.4,478.4 640.6,480.2 648.7,482.1 C656.8,483.9 668.2,485.8 673.0,487.6 C677.8,489.4 676.5,488.1 677.4,493.1 C678.3,498.1 678.3,513.4 678.5,517.5" stroke-width="3.12"/>
<path d="M522.4,497.6 C522.2,493.0 521.5,475.9 521.3,470.0 C521.1,464.1 516.9,462.5 521.3,462.1 C525.7,461.7 538.8,465.6 547.5,467.4 C556.3,469.2 565.0,470.9 573.8,472.7 C582.5,474.5 591.7,476.3 600.0,478.0 C608.3,479.7 615.7,481.4 623.6,483.0 C631.4,484.7 639.3,486.4 647.1,488.1 C655.0,489.7 666.2,491.4 670.7,493.1 C675.2,494.8 673.2,494.3 674.0,498.0 C674.8,501.7 675.0,512.4 675.2,515.3" stroke-width="3.12"/>
<path d="M488.8,537.0 L491.0,732.0 L483.0,733.0 L485.4,784.7 L525.5,785.9 L534.7,791.6 L569.0,791.6" stroke-width="4.54"/>
<path d="M491.0,773.3 L532.4,783.6" stroke-width="3.12"/>
<path d="M532.4,780.0 L589.7,789.3" stroke-width="3.12"/>
<path d="M496.8,737.7 L535.8,743.4 L537.0,789.3 L500.3,773.3 Z" stroke-width="4.26"/>
<path d="M522.0,748.0 L522.0,777.8" stroke-width="3.12"/>
<path d="M589.7,757.2 L633.3,768.7 L634.4,807.6 L590.8,800.8 Z" stroke-width="4.26" fill="#fff"/>
<path d="M603.4,768.7 L604.6,796.2 L624.1,800.8 L624.1,771.0" stroke-width="3.12"/>
<path d="M627.5,560.0 L634.4,819.0" stroke-width="4.26"/>
<path d="M631.0,580.6 C634.0,581.4 645.7,582.9 649.3,585.2 C652.9,587.5 652.1,588.3 652.7,594.4 C653.3,600.5 653.0,612.7 653.1,621.9 C653.3,631.1 653.4,640.3 653.6,649.4 C653.7,658.6 653.9,667.8 654.0,676.9 C654.2,686.1 654.3,695.3 654.5,704.5 C654.6,713.6 654.7,722.8 654.9,732.0 C655.0,741.1 655.2,750.3 655.3,759.5 C655.5,768.6 655.6,777.8 655.8,787.0 C655.9,796.2 655.0,809.1 656.2,814.5 C657.4,819.9 659.2,818.3 663.0,819.1 C666.8,819.9 676.3,819.1 679.0,819.1" stroke-width="3.55"/>
<path d="M635.5,589.8 L639.0,720.5" stroke-width="2.84"/>
<path d="M640.1,589.8 L645.9,615.0 L643.6,718.2" stroke-width="4.26"/>
<path d="M639.0,720.5 L648.0,716.0" stroke-width="2.84"/>
<path d="M663.0,566.9 C664.0,567.7 667.8,566.0 668.8,571.5 C669.8,577.0 668.8,590.6 668.8,600.1 C668.8,609.7 668.2,622.1 668.8,628.8 C669.4,635.5 667.8,637.6 672.2,640.3 C676.6,643.0 690.4,642.9 695.2,644.8 C700.0,646.7 700.0,647.3 700.9,651.7 C701.8,656.1 700.9,664.7 700.9,671.2 C700.9,677.7 701.8,686.3 700.9,690.7 C700.0,695.1 698.5,696.3 695.2,697.6 C692.0,698.9 684.5,697.6 681.4,698.7 C678.3,699.9 677.6,698.8 676.8,704.5 C676.0,710.2 676.8,723.6 676.8,733.1 C676.8,742.7 676.8,752.2 676.8,761.8 C676.8,771.3 676.8,780.9 676.8,790.5 C676.8,800.0 675.6,812.8 676.8,819.1 C677.9,825.4 682.6,826.8 683.7,828.3" stroke-width="3.55"/>
<path d="M668.0,560.0 C668.8,561.0 671.7,560.1 672.5,566.0 C673.3,571.9 672.7,585.7 672.8,595.5 C672.8,605.3 672.5,618.4 673.0,625.0 C673.5,631.6 672.0,632.7 676.0,635.0 C680.0,637.3 692.2,637.2 697.0,639.0 C701.8,640.8 703.6,641.0 705.0,646.0 C706.4,651.0 705.2,661.3 705.2,669.0 C705.3,676.7 706.5,686.7 705.5,692.0 C704.5,697.3 702.6,699.2 699.0,701.0 C695.4,702.8 687.0,701.8 684.0,703.0 C681.0,704.2 681.5,702.7 681.0,708.0 C680.5,713.3 680.9,726.0 680.9,735.0 C680.8,744.0 680.8,753.0 680.8,762.0 C680.7,771.0 680.7,780.0 680.6,789.0 C680.6,798.0 680.5,811.5 680.5,816.0" stroke-width="3.12"/>
<path d="M688.3,732.0 C692.1,730.9 707.1,722.4 711.2,725.1 C715.3,727.8 712.2,740.4 712.7,748.0 C713.2,755.7 713.8,763.3 714.3,771.0 C714.8,778.6 718.4,788.0 715.8,793.9 C713.2,799.8 704.3,802.3 698.6,806.5 C692.9,810.7 684.3,817.0 681.4,819.1" stroke-width="4.26"/>
<path d="M681.4,819.1 L656.0,826.0 L634.4,819.0" stroke-width="4.26"/>
<ellipse cx="683.7" cy="672.4" rx="5.7" ry="12.6" stroke-width="3.41"/>
<ellipse cx="614.9" cy="576" rx="6" ry="9" stroke-width="3.41"/>
<path d="M692.9,578.3 L798.0,604.0" stroke-width="3.69"/>
<path d="M714.3,649.6 L779.5,667.0" stroke-width="3.69"/>
<path d="M714.3,717.3 L783.3,737.3" stroke-width="3.69"/>
<path d="M718.0,775.0 L777.0,791.2" stroke-width="3.69"/>
<path d="M485.9,568.4 C482.9,568.0 473.9,566.6 467.9,565.7 C462.0,564.8 455.3,563.6 450.0,563.0 C444.7,562.4 439.4,561.3 436.0,561.8 C432.6,562.3 430.4,561.8 429.4,566.2 C428.4,570.6 429.6,581.0 429.8,588.3 C429.9,595.7 430.0,603.1 430.1,610.5 C430.3,617.8 429.5,628.5 430.5,632.6 C431.5,636.7 430.9,634.4 436.0,634.8 C441.1,635.2 452.6,634.8 460.9,634.8 C469.3,634.8 481.7,634.8 485.9,634.8" stroke-width="4.26"/>
<ellipse cx="446" cy="595" rx="5.5" ry="13" stroke-width="3.41"/>
<path d="M468.2,577.3 L468.2,629.3" stroke-width="4.26"/>
<path d="M456.6,532.7 L458.1,526.5 L510.8,498.6 L535.6,501.7 L534.0,506.0 L487.6,534.2 Z" stroke-width="3.69" fill="#fff"/>
<path d="M476.7,529.6 L524.8,507.9" stroke-width="2.27"/>
<path d="M479.0,532.0 L527.0,511.0" stroke-width="2.27"/>
<path d="M492.0,537.0 L549.6,494.0 L558.9,495.5 L558.9,504.8 L531.0,525.0 L512.0,543.0 L506.0,554.0 L498.0,547.0 Z" stroke-width="3.69" fill="#fff"/>
<path d="M503.0,538.0 L552.0,499.0" stroke-width="2.13"/>
<path d="M507.0,541.0 L555.0,503.0" stroke-width="1.85"/>
<path d="M518.0,546.0 L571.3,500.1 L579.0,503.2 L577.0,510.0 L548.0,533.0 L534.0,554.0 L526.0,556.0 Z" stroke-width="3.69" fill="#fff"/>
<path d="M528.0,546.0 L573.0,505.0" stroke-width="1.99"/>
<path d="M566.0,532.0 L583.0,520.0 L585.0,510.0" stroke-width="3.41"/>
<path d="M582.1,486.0 L587.0,481.5 L615.0,487.0 L619.3,490.0 L618.6,523.4 L586.8,525.0 Z" stroke-width="3.98" fill="#fff"/>
<path d="M583.0,491.0 L617.0,497.5" stroke-width="4.26"/>
<ellipse cx="597" cy="512" rx="4.8" ry="7" stroke-width="3.12" transform="rotate(-15 597 512)"/>
<path d="M598.0,533.0 L633.3,515.6 L637.9,520.3 L612.0,538.0 Z" stroke-width="3.69" fill="#fff"/>
<path d="M591.0,540.0 L606.0,530.0 L615.0,520.0" stroke-width="3.12"/>
<path d="M491.0,537.0 L574.4,552.8 L600.7,560.6" stroke-width="3.41"/>
<path d="M491.0,538.0 L497.0,546.0 L503.0,538.0 L511.0,549.0 L520.0,540.0 L526.0,553.0 L532.0,553.0 L532.0,542.0" stroke-width="2.84"/>
<path d="M531.0,543.5 L531.0,554.4" stroke-width="2.84"/>
<path d="M487.0,513.0 C484.2,512.7 475.3,511.3 470.0,511.0 C464.7,510.7 458.8,509.7 455.0,511.0 C451.2,512.3 448.3,515.8 447.0,519.0 C445.7,522.2 446.2,527.0 447.0,530.0 C447.8,533.0 452.7,534.5 452.0,537.0 C451.3,539.5 444.2,541.8 443.0,545.0 C441.8,548.2 443.0,552.8 445.0,556.0 C447.0,559.2 450.8,562.3 455.0,564.0 C459.2,565.7 464.7,566.2 470.0,566.0 C475.3,565.8 484.2,563.5 487.0,563.0" stroke-width="3.12"/>
<path d="M487.0,540.0 C484.2,540.0 474.8,540.3 470.0,540.0 C465.2,539.7 461.0,537.3 458.0,538.0 C455.0,538.7 452.3,542.2 452.0,544.0 C451.7,545.8 453.0,548.2 456.0,549.0 C459.0,549.8 464.8,549.2 470.0,549.0 C475.2,548.8 484.2,548.2 487.0,548.0" stroke-width="3.41"/>
<path d="M487.0,553.0 C484.2,553.5 474.8,555.7 470.0,556.0 C465.2,556.3 460.7,556.0 458.0,555.0 C455.3,554.0 454.7,550.8 454.0,550.0" stroke-width="3.12"/>
<path d="M456.0,531.0 L487.0,535.0" stroke-width="3.12"/>
<path d="M454.0,525.0 L462.0,522.0" stroke-width="2.84"/>
<path d="M626.0,560.0 C626.7,559.2 627.7,556.3 630.0,555.0 C632.3,553.7 636.7,552.3 640.0,552.0 C643.3,551.7 647.5,552.2 650.0,553.0 C652.5,553.8 652.5,555.5 655.0,557.0 C657.5,558.5 663.3,561.2 665.0,562.0" stroke-width="3.12"/>
<path d="M617.0,545.0 C618.3,544.2 621.2,541.2 625.0,540.0 C628.8,538.8 634.2,538.0 640.0,538.0 C645.8,538.0 654.2,538.3 660.0,540.0 C665.8,541.7 670.0,546.0 675.0,548.0 C680.0,550.0 687.5,551.3 690.0,552.0" stroke-width="3.12"/>
<path d="M600.0,560.0 L612.0,547.0" stroke-width="2.84"/>
<path d="M840,606 L862,614 L862,628 L838,626 Z" stroke-width="3.69" fill="#fff"/><ellipse cx="862" cy="621" rx="3.5" ry="7.5" stroke-width="3.41" fill="#fff"/><path d="M805,593 L843,602.5 Q847,615.25 838,628 L805,621 Q791,607.0 805,593 Z" stroke-width="3.69" fill="#fff"/><path d="M815,596.5 Q810,609.171052631579 815,621.8421052631579" stroke-width="3.12"/><path d="M821,598.0 Q816,610.4736842105262 821,622.9473684210526" stroke-width="3.12"/><path d="M831,600.5 Q826,612.6447368421052 831,624.7894736842105" stroke-width="3.12"/>
<path d="M818,797 L842,803 L842,816 L818,814 Z" stroke-width="3.69" fill="#fff"/><ellipse cx="841" cy="809.5" rx="3.5" ry="7" stroke-width="3.41" fill="#fff"/><path d="M784,779.5 L820,787 Q824,801.0 817,815 L784,807 Q770,793.25 784,779.5 Z" stroke-width="3.69" fill="#fff"/><path d="M794,782.5833333333334 Q789,795.4027777777778 794,808.2222222222222" stroke-width="3.12"/><path d="M801,784.0416666666666 Q796,796.9097222222222 801,809.7777777777778" stroke-width="3.12"/><path d="M809,785.7083333333334 Q804,798.6319444444445 809,811.5555555555555" stroke-width="3.12"/><path d="M816,787.1666666666666 Q811,800.1388888888889 816,813.1111111111111" stroke-width="3.12"/>
<path d="M780.5,635.2 L795.8,629.1 L837.8,637.3 L816.3,641.4 Z" stroke-width="3.69" fill="#fff"/>
<path d="M780.5,635.2 L816.3,641.4 L817.3,708.9 L780.5,700.7 Z" stroke-width="3.69" fill="#fff"/><path d="M816.3,641.4 L837.8,637.3 L838.8,702.8 L817.3,708.9 Z" stroke-width="3.69" fill="#fff"/><path d="M819.3,642.4 L820.3,707.9" stroke-width="2.13"/>
<path d="M781.5,704.8 L818.3,713.0 L819.3,780.5 L782.5,770.3 Z" stroke-width="3.69" fill="#fff"/><path d="M818.3,713.0 L839.8,706.9 L840.8,772.3 L819.3,780.5 Z" stroke-width="3.69" fill="#fff"/><path d="M821.3,714.0 L822.3,779.5" stroke-width="2.13"/>
<path d="M790.6,653.7 L809.1,656.7 L809.1,686.4 L791.6,683.4 Q785.6,681.4 786.6,670.05 Q786.6,655.7 790.6,653.7 Z" stroke-width="3.12"/>
<path d="M786.6,643.4 L804.0,647.5" stroke-width="2.84"/>
<path d="M785.6,691.4 L806.0,698.5" stroke-width="2.84"/>
<path d="M791.6,723.2 L810.1,726.2 L810.1,756 L792.6,753 Q786.6,751 787.6,739.6 Q787.6,725.2 791.6,723.2 Z" stroke-width="3.12"/>
<path d="M787.6,712.5 L805.0,716.5" stroke-width="2.84"/>
<path d="M786.6,760.5 L807.0,767.5" stroke-width="2.84"/>
<path d="M835.7,676.2 L837.0,661.0 M835.7,676.2 L840.1,663.6 M835.7,676.2 L842.4,668.5 M835.7,676.2 L843.4,676.2 M835.7,676.2 L842.4,683.9 M835.7,676.2 L839.6,689.5 M835.7,676.2 L836.4,691.5 M835.7,676.2 L833.1,690.7 M835.7,676.2 L829.8,686.1 " stroke-width="2.13"/>
<path d="M838.8,746.8 L840.1,731.6 M838.8,746.8 L843.2,734.2 M838.8,746.8 L845.5,739.1 M838.8,746.8 L846.5,746.8 M838.8,746.8 L845.5,754.5 M838.8,746.8 L842.6,760.1 M838.8,746.8 L839.5,762.1 M838.8,746.8 L836.2,761.3 M838.8,746.8 L832.9,756.7 " stroke-width="2.13"/>
<path d="M868.5,496.5 L869.0,720.0 L870.0,770.0" stroke-width="3.69"/>
<path d="M892.3,496.5 L892.3,720.0 L892.0,770.0" stroke-width="3.69"/>
<path d="M869,533 L892,527 M869,566 L892,560 M869,606 L892,600 M869,651 L892,645 M869,696 L892,690 M869,741 L892,735 " stroke-width="2.84"/>
<path d="M889.3,505.6 C890.9,508.2 895.9,516.1 899.1,521.3 C902.4,526.5 904.9,532.1 909.0,537.0 C913.1,541.9 918.8,546.2 923.8,550.8 C928.7,555.3 933.6,560.1 938.5,564.5 C943.4,568.9 948.3,573.0 953.2,577.2 C958.2,581.5 961.3,585.2 968.0,590.0 C974.7,594.8 986.3,599.9 993.5,605.8 C1000.7,611.7 1005.8,619.6 1011.0,625.5 C1016.2,631.4 1022.7,638.6 1025.0,641.2" stroke-width="3.41"/><path d="M885.4,519.3 C887.2,521.6 892.6,528.5 896.2,533.0 C899.8,537.6 902.9,542.4 907.0,546.8 C911.1,551.2 916.2,555.3 920.8,559.6 C925.3,563.9 929.8,568.3 934.5,572.4 C939.2,576.5 944.3,580.3 949.2,584.2 C954.2,588.1 958.3,592.1 964.0,596.0 C969.7,599.9 977.8,602.2 983.7,607.8 C989.6,613.4 993.9,622.8 999.4,629.4 C1004.9,636.0 1014.1,644.1 1017.0,647.1" stroke-width="3.41"/><path d="M896.2,516.6 L893.0,529.0 M902.8,527.6 L900.5,538.8 M910.1,538.3 L908.4,548.3 M919.6,547.1 L917.5,556.6 M929.1,555.8 L926.5,565.1 M938.6,564.6 L935.6,573.4 M948.4,573.1 L945.3,581.1 M958.0,581.6 L954.8,588.9 M967.9,589.9 L964.6,596.4 M979.0,596.6 L975.5,602.2 M990.1,603.2 L985.3,609.5 M999.7,611.8 L992.5,619.5 M1007.9,621.8 L999.6,629.6 M1016.4,631.6 L1008.1,638.5 " stroke-width="2.84"/>
<ellipse cx="1021" cy="644" rx="4" ry="3.5" stroke-width="2.84"/>
<path d="M884.0,512.0 C886.0,515.8 891.8,527.2 896.0,535.0 C900.2,542.8 904.2,552.1 909.0,558.6 C913.8,565.1 919.5,569.1 924.7,574.3 C929.9,579.5 935.5,584.8 940.4,590.0 C945.3,595.2 949.6,600.5 954.2,605.8 C958.8,611.1 964.1,616.5 968.0,621.6 C971.9,626.7 974.5,631.4 977.8,636.3 C981.1,641.2 983.7,644.3 987.6,651.0 C991.5,657.7 998.5,668.4 1001.4,676.6 C1004.3,684.8 1004.6,696.3 1005.3,700.2" stroke-width="3.41"/><path d="M878.0,520.0 C880.0,524.2 885.5,537.6 890.0,545.0 C894.5,552.4 899.9,558.5 905.0,564.5 C910.1,570.5 915.5,575.7 920.8,581.2 C926.0,586.8 931.6,592.6 936.5,598.0 C941.4,603.4 945.7,608.5 950.2,613.7 C954.8,618.9 960.2,624.5 964.0,629.4 C967.8,634.3 969.9,638.6 972.9,643.2 C975.8,647.8 977.9,650.8 981.7,657.0 C985.5,663.2 992.9,673.1 995.5,680.6 C998.1,688.1 997.2,698.6 997.5,702.2" stroke-width="3.41"/><path d="M890.5,524.6 L883.7,532.7 M897.2,537.2 L890.0,545.0 M903.7,549.9 L898.1,556.3 M911.5,561.7 L907.1,566.9 M921.8,571.6 L916.6,576.9 M932.0,581.5 L926.2,587.0 M942.0,591.7 L935.7,597.1 M951.3,602.4 L944.9,607.5 M960.7,613.1 L954.0,617.9 M969.8,624.0 L963.2,628.4 M977.6,636.0 L970.8,639.9 M985.6,647.7 L978.3,651.6 M992.9,659.9 L985.8,663.3 M999.7,672.4 L993.0,675.2 M1003.7,686.1 L997.1,688.3 " stroke-width="2.84"/>
<ellipse cx="1001.5" cy="701" rx="4" ry="3.5" stroke-width="2.84"/>
<path d="M882.0,515.0 C883.1,518.8 886.3,530.0 888.5,537.5 C890.7,545.0 892.8,553.8 895.0,560.0 C897.2,566.2 899.7,570.0 902.0,575.0 C904.3,580.0 905.9,584.7 909.0,590.0 C912.1,595.3 916.9,601.2 920.8,606.8 C924.7,612.3 929.3,618.2 932.6,623.5 C935.9,628.8 937.8,633.3 940.5,638.2 C943.1,643.2 946.0,647.8 948.3,653.0 C950.6,658.2 952.2,664.1 954.1,669.7 C956.1,675.3 957.9,679.4 960.0,686.4 C962.1,693.4 965.5,703.9 967.0,712.0 C968.5,720.1 968.7,731.2 969.0,735.0" stroke-width="3.41"/><path d="M875.0,520.0 C875.8,522.5 878.0,530.0 879.5,535.0 C881.0,540.0 882.3,545.1 884.0,550.0 C885.7,554.9 887.7,559.4 889.6,564.1 C891.5,568.9 892.1,571.7 895.2,578.3 C898.3,584.9 903.7,595.3 908.0,603.8 C912.3,612.4 917.4,622.8 920.8,629.4 C924.2,636.0 926.0,638.6 928.6,643.2 C931.3,647.8 934.1,652.0 936.5,657.0 C938.9,662.0 941.0,668.0 943.2,673.5 C945.5,679.0 947.5,683.1 950.0,690.0 C952.5,696.9 956.2,707.2 958.0,715.0 C959.8,722.8 960.5,733.3 961.0,737.0" stroke-width="3.41"/><path d="M886.2,529.4 L879.2,534.1 M890.2,543.8 L883.4,548.1 M894.4,558.2 L888.7,561.8 M900.4,571.8 L894.0,575.5 M906.6,585.5 L900.3,588.7 M914.5,598.1 L907.0,601.8 M923.3,610.2 L913.5,614.9 M931.9,622.5 L920.1,628.1 M939.1,635.6 L927.3,640.9 M946.2,648.7 L934.7,653.5 M951.8,662.6 L940.7,666.9 M956.7,676.7 L946.2,680.5 M961.4,691.0 L951.5,694.2 M965.5,705.3 L956.1,708.1 M968.1,720.1 L959.3,722.4 " stroke-width="2.84"/>
<ellipse cx="965" cy="737" rx="4" ry="3.5" stroke-width="2.84"/>
<path d="M913.6,712.0 L913.6,840.0" stroke-width="3.41"/>
<path d="M928.6,636.0 L929.9,694.7" stroke-width="3.41"/>
<path d="M857.9,615.7 C860.5,616.5 868.4,619.0 873.6,620.6 C878.8,622.2 884.5,622.7 889.3,625.5 C894.0,628.3 897.8,633.4 902.1,637.3 C906.4,641.2 911.3,644.8 914.9,649.1 C918.5,653.4 920.8,658.3 923.8,662.9 C926.7,667.4 930.1,670.7 932.6,676.6 C935.1,682.5 936.5,691.1 938.5,698.3 C940.5,705.5 942.5,713.0 944.4,720.0 C946.3,727.0 947.9,733.3 949.7,740.0 C951.5,746.7 953.9,753.3 955.0,760.0 C956.1,766.7 956.0,773.3 956.5,780.0 C957.0,786.7 957.8,796.7 958.0,800.0" stroke-width="3.41"/><path d="M862.0,625.0 C865.9,627.0 879.5,633.1 885.4,637.3 C891.3,641.5 893.3,645.8 897.2,650.1 C901.1,654.4 904.4,656.8 909.0,662.9 C913.6,669.0 921.3,679.7 924.7,686.4 C928.1,693.1 928.0,697.6 929.6,703.2 C931.2,708.8 933.1,713.9 934.5,720.0 C935.9,726.1 937.0,733.3 938.2,740.0 C939.5,746.7 941.2,753.3 942.0,760.0 C942.8,766.7 942.7,773.3 943.0,780.0 C943.3,786.7 943.8,796.7 944.0,800.0" stroke-width="3.41"/><path d="M872.4,620.2 L874.3,631.0 M886.9,624.3 L886.1,637.9 M898.6,633.8 L895.4,647.9 M909.8,644.0 L904.8,657.9 M919.4,655.6 L913.2,668.6 M927.6,668.2 L920.9,680.0 M934.3,681.7 L927.0,692.2 M938.0,696.4 L930.3,705.5 M942.0,711.0 L934.2,718.6 M945.9,725.6 L936.8,732.0 M949.8,740.3 L939.4,745.5 M953.9,754.8 L941.9,759.0 M956.0,769.8 L942.7,772.6 M956.9,784.9 L943.3,786.3 " stroke-width="2.84"/>
<path d="M838.0,674.0 C842.0,675.7 855.9,681.4 862.3,684.4 C868.7,687.4 871.5,689.6 876.1,692.2 C880.8,694.8 884.4,696.2 890.0,700.0 C895.6,703.8 904.2,709.2 910.0,715.0 C915.8,720.8 920.3,727.5 925.0,735.0 C929.7,742.5 935.2,752.5 938.0,760.0 C940.8,767.5 940.3,773.3 941.5,780.0 C942.7,786.7 944.4,796.7 945.0,800.0" stroke-width="3.41"/><path d="M838.0,680.0 C842.0,681.7 854.2,685.8 862.0,690.0 C869.8,694.2 878.2,699.8 885.0,705.0 C891.8,710.2 897.7,715.2 903.0,721.0 C908.3,726.8 912.8,732.7 917.0,740.0 C921.2,747.3 925.8,757.9 928.0,765.0 C930.2,772.1 929.7,776.7 930.5,782.5 C931.3,788.3 932.6,797.1 933.0,800.0" stroke-width="3.41"/><path d="M850.6,679.3 L849.8,684.5 M863.0,684.8 L861.3,689.7 M874.9,691.5 L872.2,696.0 M886.9,698.0 L882.6,703.2 M898.2,705.5 L892.5,711.0 M908.9,714.0 L901.7,719.6 M917.8,724.3 L909.9,729.2 M925.4,735.6 L916.8,739.7 M932.2,747.4 L922.5,751.0 M937.9,759.8 L927.2,762.7 M940.6,773.1 L929.8,775.0 M942.7,786.6 L931.2,787.5 " stroke-width="2.84"/>
<path d="M840.0,742.0 C842.7,741.7 850.8,740.7 856.2,740.0 C861.7,739.3 867.4,739.1 872.5,738.0 C877.6,736.9 880.6,733.9 886.9,733.6 C893.1,733.3 902.8,734.1 910.0,736.0 C917.2,737.9 924.0,740.2 930.0,745.0 C936.0,749.8 941.8,757.5 946.0,765.0 C950.2,772.5 953.5,785.8 955.0,790.0" stroke-width="3.41"/><path d="M840.0,750.0 C842.7,749.8 850.8,749.0 856.2,748.5 C861.7,748.0 867.4,747.9 872.5,747.0 C877.6,746.1 881.6,743.3 887.0,743.0 C892.4,742.7 899.2,743.3 905.0,745.0 C910.8,746.7 916.8,748.8 922.0,753.0 C927.2,757.2 932.2,763.0 936.0,770.0 C939.8,777.0 943.5,790.8 945.0,795.0" stroke-width="3.41"/><path d="M853.1,740.4 L852.1,748.9 M866.3,739.0 L864.2,747.9 M879.0,735.6 L876.2,746.0 M892.0,733.6 L887.9,743.0 M905.1,734.9 L899.9,743.9 M917.9,738.4 L911.6,747.2 M929.5,744.6 L922.1,753.1 M938.8,754.1 L930.6,761.8 M946.1,765.1 L937.0,772.1 M951.0,777.4 L941.3,783.4 " stroke-width="2.84"/>
<path d="M878,662 L900,656 L903,672 L880,678 Z" stroke-width="3.12" fill="#fff"/>
<ellipse cx="879" cy="670" rx="4" ry="7" stroke-width="3.12" fill="#fff"/>
<path d="M885,660 Q882,668 886,676 M890,659 Q887,667 891,675 M895,658 Q892,666 896,674" stroke-width="2.27"/>
<path d="M903.0,666.0 L913.0,668.0 L916.0,675.0 L905.0,677.0" stroke-width="3.12"/>
<path d="M862,773 L862,790 Q881,800 901,790 L901,773" stroke-width="3.69" fill="#fff"/>
<ellipse cx="881.6" cy="774" rx="19.5" ry="7" stroke-width="3.69" fill="#fff"/>
<ellipse cx="881.6" cy="772.5" rx="14" ry="5" stroke-width="3.12"/>
<path d="M870.0,760.0 L870.0,772.0" stroke-width="3.12"/>
<path d="M892.0,760.0 L892.0,772.0" stroke-width="3.12"/>
<path d="M870.0,795.7 L868.0,816.0" stroke-width="3.41"/>
<path d="M892.0,796.0 L891.0,816.0" stroke-width="3.41"/>
<path d="M990.0,247.8 C986.3,247.2 975.0,245.3 967.5,244.0 C960.0,242.7 952.5,241.4 945.0,240.2 C937.6,238.9 930.1,237.6 922.6,236.3 C915.1,235.0 905.2,232.9 900.1,232.5 C895.0,232.1 893.6,232.3 891.7,233.9 C889.9,235.5 889.0,237.0 889.0,242.3 C889.0,247.6 890.8,258.1 891.8,266.0 C892.7,273.8 893.1,282.6 894.5,289.6 C895.9,296.6 898.2,301.7 900.1,307.7 C902.0,313.7 903.4,319.5 905.7,325.8 C908.0,332.1 911.3,338.8 914.0,345.2 C916.8,351.7 920.3,358.4 922.4,364.7 C924.5,371.0 925.2,376.8 926.5,382.8 C927.9,388.8 929.7,393.9 930.7,400.9 C931.7,407.9 932.1,416.7 932.8,424.5 C933.5,432.4 933.9,443.6 934.9,448.2 C935.9,452.8 936.0,451.2 939.0,452.4 C942.0,453.6 950.0,453.6 953.0,455.2 C956.0,456.8 956.5,456.9 957.2,462.1 C957.9,467.3 957.2,478.2 957.2,486.2 C957.2,494.3 957.2,502.3 957.2,510.4 C957.2,518.4 957.9,529.6 957.2,534.5 C956.5,539.4 957.4,539.3 953.0,540.0 C948.6,540.7 935.4,537.3 930.7,538.7 C926.1,540.1 926.0,546.8 925.1,548.4" stroke-width="4.54"/>
<path d="M896.0,236.7 C896.3,241.1 897.4,254.3 898.0,263.1 C898.7,272.0 899.0,282.4 900.1,289.6 C901.2,296.8 903.3,300.7 905.0,306.3 C906.6,311.9 907.6,317.0 909.8,323.0 C912.0,329.0 915.4,336.0 918.1,342.5 C920.9,349.0 924.4,355.8 926.5,362.0 C928.6,368.2 929.3,374.0 930.7,380.0 C932.1,386.0 933.9,390.8 934.9,398.0 C935.9,405.2 936.3,414.7 937.0,423.1 C937.6,431.5 938.4,443.1 939.0,448.2 C939.6,453.3 938.2,452.2 940.5,453.8 C942.8,455.4 950.7,456.6 953.0,458.0 C955.3,459.4 954.2,457.5 954.4,462.0 C954.6,466.5 954.4,477.5 954.4,485.2 C954.4,493.0 954.4,500.7 954.4,508.5 C954.4,516.2 954.4,527.8 954.4,531.7" stroke-width="3.12"/>
<path d="M933.5,465.0 L941.0,466.0 L943.2,517.8 L935.5,517.0 Z" stroke-width="3.12"/>
<path d="M875.0,299.3 C874.3,300.0 871.4,302.8 870.9,303.5 C870.4,304.2 870.4,301.2 872.3,303.5 C874.1,305.8 878.8,312.8 882.0,317.4 C885.2,322.0 888.7,326.4 891.7,331.3 C894.7,336.2 897.3,341.5 900.0,346.6 C902.8,351.8 906.2,356.4 908.4,362.0 C910.6,367.6 911.7,374.0 913.3,380.0 C914.9,386.0 917.2,391.3 918.2,398.0 C919.2,404.7 919.1,412.9 919.6,420.4 C920.1,427.8 921.0,435.3 921.0,442.7 C921.0,450.1 920.1,457.5 919.6,464.9 C919.1,472.4 918.9,480.2 918.2,487.2 C917.5,494.2 916.3,500.2 915.4,506.7 C914.5,513.2 913.1,523.0 912.6,526.2" stroke-width="3.41"/>
<path d="M874.5,303.0 C876.1,305.3 880.8,312.3 884.0,317.0 C887.2,321.7 890.5,326.1 893.5,331.0 C896.5,335.9 899.3,341.3 902.2,346.5 C905.2,351.7 908.8,356.4 911.0,362.0 C913.2,367.6 914.2,374.0 915.8,380.0 C917.3,386.0 919.5,391.3 920.5,398.0 C921.5,404.7 921.5,412.9 922.0,420.4 C922.5,427.8 923.5,435.3 923.5,442.7 C923.5,450.1 922.7,457.5 922.2,464.9 C921.8,472.2 921.6,480.6 921.0,487.0 C920.4,493.4 919.3,498.0 918.5,503.5 C917.7,509.0 916.4,517.2 916.0,520.0" stroke-width="2.27"/>
<path d="M877.0,302.0 C878.5,304.3 883.2,311.3 886.2,316.0 C889.3,320.7 892.5,325.0 895.5,330.0 C898.5,335.0 901.5,340.7 904.5,346.0 C907.5,351.3 911.2,356.3 913.5,362.0 C915.8,367.7 916.8,374.0 918.5,380.0 C920.2,386.0 922.4,391.3 923.5,398.0 C924.6,404.7 924.5,412.9 925.0,420.4 C925.5,427.8 926.5,435.3 926.5,442.7 C926.5,450.1 925.7,457.5 925.2,464.9 C924.8,472.2 925.0,478.6 924.0,487.0 C923.0,495.4 919.8,510.3 919.0,515.0" stroke-width="2.27"/>
<path d="M184.2,534.0 C188.0,535.2 199.5,538.7 207.1,541.0 C214.7,543.3 222.6,545.7 230.0,548.0 C237.4,550.3 244.3,552.5 251.5,554.8 C258.7,557.1 265.8,559.8 273.0,561.6 C280.2,563.4 287.7,564.1 295.0,565.4 C302.3,566.7 309.7,567.9 317.0,569.2 C324.3,570.5 331.2,572.8 339.0,573.0 C346.8,573.2 355.4,571.4 363.7,570.7 C371.9,569.9 380.1,569.1 388.3,568.3 C396.6,567.6 408.9,566.4 413.0,566.0" stroke-width="3.69"/>
<path d="M452.0,487.0 C449.4,488.4 441.7,492.4 436.6,495.1 C431.5,497.9 426.8,500.3 421.2,503.3 C415.6,506.3 408.9,509.7 402.8,512.9 C396.6,516.1 391.2,519.5 384.3,522.5 C377.4,525.5 369.2,527.9 361.6,530.6 C354.1,533.3 347.1,536.5 339.0,538.7 C330.9,540.9 320.4,541.5 313.0,544.0 C305.6,546.5 300.6,550.7 294.4,554.0 C288.1,557.3 280.9,560.2 275.7,564.0 C270.4,567.8 267.1,572.7 262.9,577.0 C258.6,581.3 254.5,584.2 250.0,590.0 C245.5,595.8 239.9,603.7 236.0,612.0 C232.1,620.3 228.3,632.4 226.5,640.0 C224.7,647.6 225.5,651.6 225.0,657.4 C224.5,663.1 223.7,668.7 223.5,674.7 C223.3,680.7 223.8,687.1 223.9,693.4 C224.0,699.6 223.2,707.2 224.3,712.0 C225.4,716.8 226.8,720.5 230.6,722.3 C234.3,724.1 241.4,722.7 246.8,722.9 C252.2,723.1 260.3,723.4 263.0,723.5" stroke-width="4.26"/>
<path d="M453.7,485.6 C450.7,487.8 441.8,494.4 435.8,498.7 C429.8,503.1 423.9,507.5 417.9,511.9 C411.9,516.2 406.1,519.9 400.0,525.0 C393.9,530.1 387.3,536.7 381.0,542.5 C374.7,548.3 366.8,555.0 362.0,560.0 C357.2,565.0 355.7,568.3 352.5,572.5 C349.3,576.7 346.4,578.4 343.0,585.0 C339.6,591.6 334.8,602.8 332.0,612.0 C329.2,621.2 327.6,632.4 326.5,640.0 C325.4,647.6 325.9,651.6 325.6,657.4 C325.4,663.1 324.9,667.2 324.8,674.7 C324.7,682.2 325.0,693.1 325.1,702.3 C325.2,711.5 325.4,720.6 325.5,729.8 C325.6,739.0 325.7,752.8 325.8,757.4" stroke-width="4.54"/>
<path d="M449.2,482.7 L484.6,490.0" stroke-width="2.84"/>
<path d="M325.8,707.0 L339.0,707.2" stroke-width="4.26"/>
<path d="M339.0,707.2 C343.2,706.4 355.7,703.8 364.0,702.1 C372.3,700.4 381.5,699.5 389.0,697.0 C396.5,694.5 402.4,690.4 409.1,687.1 C415.8,683.8 423.3,683.1 429.2,677.2 C435.1,671.4 441.8,656.2 444.3,652.0" stroke-width="3.69"/>
<path d="M184.2,643.3 C187.3,644.8 196.7,649.1 203.0,652.1 C209.3,655.0 215.5,657.9 221.8,660.8 C228.1,663.8 234.6,665.6 240.6,669.6 C246.6,673.6 254.4,680.5 258.0,684.7 C261.6,688.9 261.1,689.9 262.0,694.7 C262.9,699.5 262.8,707.2 263.2,713.5 C263.6,719.8 264.8,727.9 264.4,732.3 C264.0,736.7 265.3,736.6 260.7,740.0 C256.1,743.4 244.8,748.3 236.8,752.5 C228.9,756.7 219.5,762.3 213.0,765.0 C206.5,767.7 203.0,767.5 198.0,768.7 C193.0,769.9 185.5,771.8 183.0,772.4" stroke-width="4.54"/>
<path d="M183.0,732.3 L263.0,732.3" stroke-width="3.12"/>
<path d="M183.0,742.3 L260.7,734.8" stroke-width="3.12"/>
<path d="M265.7,723.5 C268.6,724.5 276.5,726.2 283.2,729.8 C289.9,733.3 300.6,739.8 305.8,744.8 C311.0,749.8 312.4,754.4 314.5,760.0 C316.6,765.6 317.7,775.6 318.3,778.7" stroke-width="2.84"/>
<path d="M265.7,727.0 C268.8,728.0 277.6,729.7 284.0,733.0 C290.4,736.3 299.3,742.2 304.0,747.0 C308.7,751.8 310.0,756.7 312.0,762.0 C314.0,767.3 315.3,776.2 316.0,779.0" stroke-width="2.27"/>
<path d="M265.7,734.8 C269.4,735.6 281.1,736.0 288.2,739.8 C295.3,743.6 304.5,752.0 308.3,757.4 C312.1,762.8 310.0,767.4 310.8,772.4 C311.6,777.4 311.9,782.3 313.3,787.4 C314.7,792.5 317.1,797.9 319.0,803.1 C320.8,808.3 323.7,816.2 324.6,818.8" stroke-width="2.84"/>
<path d="M282.0,739.8 C281.8,742.3 281.8,750.6 281.0,755.0 C280.2,759.4 280.9,763.0 277.0,766.0 C273.1,769.0 264.0,770.7 257.5,773.0 C251.0,775.3 244.6,777.2 238.0,780.0 C231.4,782.8 222.8,785.4 218.0,790.0 C213.2,794.6 210.6,802.5 209.3,807.5 C208.1,812.5 207.8,816.7 210.5,820.0 C213.2,823.3 218.9,826.0 225.6,827.5 C232.3,829.0 242.9,828.9 250.6,828.8 C258.2,828.7 264.5,827.7 271.5,827.1 C278.5,826.6 285.4,826.0 292.4,825.5 C299.4,824.9 309.8,824.1 313.3,823.8" stroke-width="4.54"/>
<path d="M183.0,811.2 L208.0,811.2" stroke-width="4.26"/>
<path d="M275.7,767.4 C278.4,766.8 286.6,764.9 292.0,763.7 C297.4,762.5 303.0,761.0 308.3,760.0 C313.6,759.0 318.5,758.3 323.6,757.5 C328.8,756.6 332.5,755.8 339.0,754.9 C345.5,754.0 354.9,752.9 362.8,751.9 C370.7,750.9 378.7,750.0 386.6,749.0 C394.5,748.0 406.4,746.5 410.4,746.0" stroke-width="3.98"/>
<path d="M318.3,767.4 C321.8,767.2 332.3,766.6 339.0,766.0 C345.7,765.4 352.0,764.5 358.5,763.8 C365.0,763.1 374.8,762.0 378.0,761.6" stroke-width="3.98"/>
<path d="M429.2,612.0 C429.3,614.2 429.2,622.1 430.0,625.0 C430.8,627.9 430.4,628.1 434.0,629.5 C437.6,630.9 445.8,632.0 451.6,633.2 C457.5,634.5 463.4,637.0 469.3,637.0 C475.2,637.0 484.1,633.9 487.0,633.3" stroke-width="4.26"/>
<path d="M468.8,612.0 L468.8,629.5" stroke-width="4.26"/>
<path d="M121.7,879.0 C126.3,879.4 140.1,880.6 149.3,881.5 C158.6,882.3 167.8,883.1 177.0,884.0 C186.2,884.8 195.4,885.6 204.7,886.4 C213.9,887.2 223.9,886.6 232.3,888.9 C240.7,891.2 248.1,896.7 255.0,900.3 C261.9,903.9 267.4,907.0 273.6,910.3 C279.8,913.6 286.0,917.0 292.2,920.3 C298.4,923.6 306.3,928.5 310.8,930.3 C315.3,932.1 314.2,930.4 319.0,931.3 C323.8,932.2 332.6,934.1 339.3,935.4 C346.1,936.8 352.9,938.2 359.7,939.6 C366.4,940.9 372.1,942.1 380.0,943.7 C387.9,945.3 398.2,947.2 407.4,949.0 C416.5,950.8 425.6,952.5 434.7,954.3 C443.9,956.1 453.0,957.8 462.1,959.6 C471.2,961.4 480.3,963.1 489.5,964.9 C498.6,966.7 507.7,968.4 516.8,970.2 C526.0,972.0 537.1,974.4 544.2,975.5 C551.3,976.6 554.2,976.3 559.2,976.8 C564.2,977.2 567.0,977.8 574.2,978.0 C581.4,978.2 593.2,977.9 602.7,977.9 C612.1,977.8 621.6,977.8 631.1,977.8 C640.6,977.7 650.1,977.7 659.5,977.6 C669.0,977.6 683.3,977.5 688.0,977.5" stroke-width="4.69"/>
<path d="M171.3,912.1 C174.7,912.5 184.9,913.6 191.6,914.4 C198.4,915.1 205.2,915.9 212.0,916.6 C218.7,917.4 226.2,917.1 232.3,918.9 C238.4,920.7 243.3,924.8 248.8,927.7 C254.3,930.6 258.9,933.3 265.3,936.5 C271.7,939.7 279.8,943.4 287.0,946.8 C294.2,950.2 303.7,955.0 308.7,957.1 C313.7,959.2 312.1,958.2 317.0,959.2 C321.9,960.2 331.0,962.0 338.0,963.3 C345.0,964.7 352.0,966.1 359.0,967.5 C366.0,968.8 372.2,970.3 380.0,971.6 C387.8,972.9 397.2,974.1 405.8,975.3 C414.4,976.6 423.0,977.8 431.5,979.0 C440.1,980.3 448.7,981.5 457.3,982.7 C465.9,984.0 474.5,985.2 483.1,986.5 C491.7,987.7 500.3,988.9 508.9,990.2 C517.4,991.4 526.0,992.6 534.6,993.9 C543.2,995.1 556.1,997.0 560.4,997.6" stroke-width="4.69"/>
<path d="M331.5,918.9 C335.5,919.7 347.7,922.0 355.8,923.5 C363.8,925.1 371.2,926.6 380.0,928.2 C388.8,929.8 399.1,931.7 408.6,933.4 C418.2,935.1 427.7,936.8 437.2,938.6 C446.8,940.3 456.3,942.0 465.9,943.8 C475.4,945.5 484.9,947.2 494.5,948.9 C504.0,950.7 513.5,952.4 523.1,954.1 C532.6,955.8 543.2,958.0 551.7,959.3 C560.2,960.6 566.1,961.5 574.2,961.8 C582.3,962.1 591.4,961.4 600.0,961.2 C608.6,961.0 617.2,960.8 625.9,960.5 C634.5,960.3 643.1,960.1 651.7,959.9 C660.3,959.7 670.5,959.6 677.5,959.3 C684.5,959.0 688.1,958.5 693.4,958.0 C698.7,957.6 706.6,957.0 709.3,956.8" stroke-width="4.54"/>
<path d="M324.2,917.9 L324.2,928.2" stroke-width="4.26"/>
<path d="M318.0,931.3 L318.0,959.2" stroke-width="4.26"/>
<path d="M246.7,979.9 L303.6,960.2" stroke-width="4.69"/>
<path d="M154.6,1042.2 L215.1,1005.3 L218.1,1006.8 L218.8,1028.2 L334.7,1092.4 L335.4,1152.2 L318.4,1162.0 L201.1,1096.0 L200.4,1117.5 Z" stroke-width="5.68" fill="#fff"/>
<path d="M196.7,1017.1 L215.1,1005.3 L218.1,1006.8 L218.8,1028.2 L334.7,1092.4 L335.4,1152.2 L318.4,1161.8 L314.7,1157.4 L314.0,1103.5 L198.1,1040.0 Z" stroke-width="1.42" fill="#000"/>
<path d="M652.2,1066.9 C652.9,1065.7 652.4,1063.6 657.4,1061.7 C662.4,1059.8 675.7,1056.4 682.2,1055.5 C688.8,1054.6 689.9,1055.5 696.7,1056.5 C703.5,1057.5 714.4,1059.9 723.3,1061.5 C732.1,1063.2 741.0,1064.9 749.8,1066.6 C758.7,1068.2 767.6,1069.9 776.4,1071.6 C785.3,1073.3 794.1,1074.9 803.0,1076.6 C811.8,1078.3 820.7,1080.0 829.6,1081.6 C838.4,1083.3 847.3,1085.0 856.1,1086.7 C865.0,1088.3 874.8,1089.1 882.7,1091.7 C890.6,1094.3 897.4,1099.2 903.3,1102.0 C909.1,1104.8 916.1,1106.7 917.8,1108.2 C919.5,1109.8 917.7,1110.5 913.6,1111.3 C909.5,1112.1 899.8,1112.3 893.0,1112.8 C886.1,1113.4 880.0,1115.0 872.3,1114.4 C864.6,1113.8 855.1,1111.1 846.5,1109.5 C837.9,1107.9 829.3,1106.2 820.6,1104.6 C812.0,1102.9 803.4,1101.3 794.8,1099.7 C786.2,1098.0 777.6,1096.4 769.0,1094.8 C760.4,1093.1 751.8,1091.5 743.2,1089.8 C734.6,1088.2 726.0,1086.6 717.4,1084.9 C708.7,1083.3 700.1,1081.6 691.5,1080.0 C682.9,1078.4 672.1,1076.9 665.7,1075.1 C659.3,1073.3 655.5,1070.4 653.3,1069.0 C651.0,1067.6 651.5,1068.1 652.2,1066.9 Z" stroke-width="5.40"/>
<path d="M679.1,1063.8 L877.5,1102.0" stroke-width="3.12"/>
<path d="M910.0,1106.0 L918.0,1109.0 L912.0,1111.0" stroke-width="4.97"/>
<ellipse cx="801.8" cy="976.8" rx="48" ry="17.5" stroke-width="4.26" fill="#fff"/>
<ellipse cx="803" cy="972" rx="40" ry="12.5" stroke-width="3.69"/>
<path d="M800.6,935 L800.6,978 L827.6,978 L827.6,935" stroke-width="3.98" fill="#fff"/>
<ellipse cx="814.1" cy="935" rx="13.5" ry="4.5" stroke-width="3.69" fill="#fff"/>
<path d="M576.8,790.8 C572.4,792.3 557.9,796.6 550.6,799.7 C543.3,802.8 536.8,806.4 532.8,809.2 C528.8,812.0 528.0,812.4 526.9,816.3 C525.8,820.2 526.3,827.0 526.0,832.3 C525.7,837.7 525.0,843.7 525.1,848.4 C525.2,853.1 526.2,857.5 526.9,860.3 C527.6,863.1 528.7,862.2 529.3,865.0 C529.9,867.8 529.2,872.9 530.4,876.9 C531.6,880.9 533.8,884.8 536.4,888.8 C539.0,892.8 542.5,897.6 545.9,900.6 C549.3,903.6 553.2,905.6 556.6,906.6 C560.0,907.6 562.7,907.4 566.1,906.6 C569.5,905.8 573.6,904.4 576.8,901.8 C580.0,899.2 582.9,894.5 585.1,891.1 C587.3,887.7 589.2,884.4 589.8,881.6 C590.4,878.8 589.4,876.5 588.6,874.5 C587.8,872.5 585.9,873.4 585.1,869.8 C584.3,866.2 583.9,857.9 583.9,853.1 C583.9,848.4 584.1,844.5 585.1,841.3 C586.1,838.1 587.6,836.5 589.8,834.1 C592.0,831.7 593.7,829.8 598.1,827.0 C602.5,824.2 610.0,820.7 616.0,817.5 C621.9,814.3 630.8,809.6 633.8,808.0" stroke-width="4.83"/>
<path d="M572.0,910.1 C573.2,909.7 575.9,909.8 579.1,907.8 C582.3,905.8 587.5,901.7 591.0,898.3 C594.5,894.9 598.5,892.5 599.9,887.6 C601.3,882.7 599.8,872.4 599.3,868.6 C598.8,864.8 598.1,866.2 597.0,865.0 C595.9,863.8 593.6,865.1 592.8,861.5 C592.0,857.9 591.3,847.4 592.2,843.6 C593.1,839.8 594.0,841.3 598.1,838.9 C602.2,836.5 610.4,832.6 616.5,829.4 C622.7,826.2 631.9,821.5 635.0,819.9" stroke-width="4.54"/>
<path d="M635.0,819.9 L639.7,818.7 L657.5,825.8 L665.0,829.4" stroke-width="4.26"/>
<path d="M531.6,818.7 L585.1,832.9" stroke-width="4.26"/>
<path d="M529.3,853.1 L582.7,863.8" stroke-width="4.26"/>
<path d="M531.0,859.0 L585.1,874.5" stroke-width="3.41"/>
<path d="M580.0,797.0 L580.0,809.0 L586.0,804.0 L589.0,811.0 L596.0,805.0 L597.0,810.0 L612.0,804.0" stroke-width="3.12"/>
<path d="M633.8,808.0 L637.0,808.0 L637.0,818.0" stroke-width="4.26"/>
<path d="M843.0,803.7 C846.1,803.6 855.3,803.5 861.5,803.4 C867.7,803.2 874.2,803.0 880.0,803.0 C885.8,803.0 890.9,803.2 896.3,803.4 C901.7,803.5 906.9,802.7 912.6,803.7 C918.3,804.7 925.2,806.7 930.4,809.6 C935.6,812.5 940.9,816.3 944.0,821.0 C947.1,825.7 949.0,832.3 949.0,838.0 C949.0,843.7 947.2,850.3 944.0,855.0 C940.8,859.7 935.3,863.5 930.0,866.0 C924.7,868.5 917.0,869.2 912.0,870.0 C907.0,870.8 902.0,870.8 900.0,871.0" stroke-width="3.41"/><path d="M843.0,813.1 C846.1,813.1 855.3,813.2 861.5,813.3 C867.7,813.4 874.2,813.4 880.0,813.5 C885.8,813.6 890.9,813.8 896.3,813.9 C901.7,814.0 907.9,813.6 912.6,814.3 C917.3,815.0 921.0,815.9 924.5,817.9 C928.0,819.9 931.9,823.5 933.9,826.1 C935.9,828.7 936.3,830.5 936.3,833.2 C936.3,836.0 935.9,839.7 933.9,842.6 C931.9,845.5 928.0,849.1 924.5,850.9 C921.0,852.7 916.7,852.6 912.6,853.3 C908.5,854.0 902.1,854.7 900.0,855.0" stroke-width="3.41"/><path d="M848.5,803.6 L849.5,813.2 M859.5,803.4 L860.6,813.3 M870.5,803.1 L871.6,813.4 M881.5,803.0 L882.4,813.5 M892.5,803.3 L893.1,813.8 M903.5,803.2 L904.8,813.9 M914.4,804.1 L913.1,814.4 M925.0,807.1 L922.2,816.8 M934.7,812.2 L929.6,821.6 M942.9,819.5 L934.7,827.3 M947.7,829.3 L936.3,833.6 M948.9,840.2 L935.1,840.3 M946.3,850.8 L931.2,845.8 M939.9,859.6 L928.3,848.4 M930.7,865.7 L922.5,851.7 M920.2,868.7 L916.0,852.9 M909.3,870.4 L906.0,854.2 " stroke-width="2.84"/>
<path d="M957.0,787.0 C957.2,790.0 958.0,799.0 958.5,805.0 C959.0,811.0 960.2,815.8 960.0,823.0 C959.8,830.2 959.1,842.1 957.5,848.5 C955.9,854.9 952.9,858.5 950.4,861.5 C947.9,864.5 945.5,864.9 942.2,866.3 C938.9,867.7 932.4,869.2 930.4,869.8" stroke-width="3.41"/><path d="M940.0,793.0 C940.2,797.3 941.2,810.8 941.0,819.0 C940.8,827.2 940.5,836.3 939.0,842.0 C937.5,847.7 934.8,850.3 932.0,853.0 C929.2,855.7 923.7,857.2 922.0,858.0" stroke-width="3.41"/><path d="M957.5,792.5 L940.0,793.9 M958.4,803.4 L940.6,804.9 M959.6,814.4 L941.0,816.5 M959.9,825.4 L940.8,824.6 M959.3,836.3 L940.2,834.6 M957.8,847.2 L938.6,843.3 M953.6,857.3 L937.3,846.6 M945.8,864.9 L937.4,846.2 M935.4,868.4 L931.4,853.5 " stroke-width="2.84"/>
<path d="M869.0,796.0 C869.2,800.6 871.6,817.0 870.0,823.8 C868.4,830.6 863.7,832.9 859.5,836.7 C855.3,840.5 849.7,843.4 844.8,846.8 C839.8,850.1 835.4,853.9 830.0,856.8 C824.6,859.7 818.1,861.7 812.2,864.1 C806.3,866.5 800.4,867.1 794.4,871.4 C788.4,875.7 779.8,883.6 776.0,889.7 C772.2,895.8 771.5,901.1 771.5,908.0 C771.5,914.9 774.7,924.7 776.0,931.0 C777.3,937.3 778.3,940.9 779.5,945.9 C780.7,950.9 782.1,955.9 783.0,960.8 C783.9,965.6 784.7,972.6 785.0,975.0" stroke-width="3.69"/><path d="M880.0,800.0 C879.9,802.9 879.7,811.7 879.5,817.5 C879.3,823.3 880.6,829.0 879.0,835.0 C877.4,841.0 874.3,848.5 870.1,853.3 C865.9,858.1 860.3,859.8 853.6,863.9 C846.9,868.0 838.7,874.5 830.0,878.0 C821.3,881.5 808.0,880.8 801.3,885.0 C794.6,889.2 791.7,896.6 789.8,903.5 C787.9,910.4 788.3,918.8 789.8,926.4 C791.3,934.0 797.1,942.5 799.0,949.4 C800.9,956.3 800.9,964.7 801.3,967.7" stroke-width="3.69"/><path d="M869.7,803.5 L879.9,802.5 M870.5,818.4 L879.5,818.5 M865.2,831.9 L876.1,843.3 M853.4,841.2 L864.3,858.0 M840.9,849.5 L852.2,864.8 M828.3,857.6 L836.8,874.7 M814.4,863.2 L821.0,880.3 M800.3,868.2 L806.4,882.9 M787.9,876.6 L797.8,887.8 M777.6,887.4 L791.6,898.0 M771.9,901.1 L789.8,903.6 M772.4,916.0 L788.5,913.0 M775.9,930.6 L790.0,927.5 M779.3,945.2 L795.7,941.3 M782.8,959.8 L800.3,956.2 " stroke-width="3.12"/>
<path d="M880.0,830.0 C879.5,834.6 877.3,849.2 877.0,857.6 C876.7,866.0 877.8,872.9 878.1,880.5 C878.5,888.2 877.2,895.9 879.3,903.5 C881.4,911.1 885.8,920.7 890.7,926.4 C895.7,932.1 903.1,935.0 909.0,937.9 C914.9,940.8 920.5,941.7 926.2,943.6 C932.0,945.6 937.5,947.7 943.5,949.4 C949.5,951.1 955.8,952.6 962.0,953.7 C968.2,954.8 974.4,955.4 980.6,956.2 C986.8,957.1 993.0,956.8 999.2,958.8 C1005.4,960.8 1012.6,964.8 1017.8,968.1 C1023.0,971.4 1026.1,975.0 1030.2,978.5 C1034.3,981.9 1040.5,987.1 1042.6,988.8" stroke-width="3.41"/><path d="M892.0,800.0 C892.0,803.5 891.8,814.2 891.7,821.3 C891.6,828.4 891.5,834.5 891.4,842.6 C891.3,850.7 890.9,862.6 891.0,870.0 C891.1,877.4 891.7,881.2 892.0,886.8 C892.3,892.3 890.9,897.7 893.0,903.5 C895.1,909.3 898.9,917.0 904.5,921.8 C910.1,926.5 920.2,929.5 926.9,932.0 C933.6,934.5 938.6,935.3 944.5,937.0 C950.3,938.7 956.0,940.7 962.0,942.0 C968.0,943.3 974.4,944.0 980.6,945.0 C986.8,946.0 993.4,946.3 999.2,948.0 C1005.1,949.7 1009.5,950.5 1015.7,955.0 C1021.9,959.5 1033.0,971.7 1036.4,975.0" stroke-width="3.41"/><path d="M879.0,837.9 L891.4,840.7 M877.2,853.8 L891.1,856.1 M877.4,869.8 L891.0,870.0 M878.2,885.8 L892.0,887.2 M878.9,901.7 L892.1,900.1 M884.4,916.7 L896.7,911.9 M893.9,929.5 L903.0,920.4 M907.8,937.3 L913.8,927.1 M922.8,942.6 L927.0,932.0 M938.0,947.7 L942.8,936.6 M953.4,951.9 L957.1,940.8 M969.2,954.8 L971.6,943.7 M985.0,956.7 L986.9,945.9 M1000.8,959.3 L1005.2,949.7 M1015.1,966.4 L1020.5,959.0 M1027.7,976.2 L1032.9,971.4 " stroke-width="2.84"/>
<ellipse cx="1040" cy="990" rx="4" ry="4" stroke-width="2.84"/>
<path d="M930.0,868.0 C932.2,867.7 937.2,866.4 943.3,866.3 C949.4,866.2 958.9,866.9 966.6,867.1 C974.4,867.4 981.9,867.4 990.0,868.0 C998.1,868.6 1006.8,869.7 1015.2,870.5 C1023.7,871.4 1033.5,871.1 1040.5,873.1 C1047.5,875.1 1054.2,880.9 1057.0,882.4" stroke-width="3.41"/><path d="M928.0,875.0 C929.0,874.9 928.2,874.3 933.9,874.5 C939.6,874.7 952.6,875.7 962.0,876.2 C971.3,876.8 982.5,877.4 990.0,878.0 C997.5,878.6 1001.3,879.1 1007.0,879.6 C1012.7,880.2 1016.7,879.5 1024.0,881.3 C1031.3,883.1 1046.4,889.0 1050.9,890.6" stroke-width="3.41"/><path d="M937.9,866.7 L939.6,874.8 M953.9,866.5 L954.2,875.7 M969.9,867.3 L970.4,876.8 M985.8,867.8 L986.2,877.7 M1001.8,869.1 L1001.6,879.1 M1017.7,870.8 L1017.8,880.2 M1033.7,871.9 L1033.3,884.2 M1048.7,876.9 L1043.2,887.8 " stroke-width="2.84"/>
<ellipse cx="1054" cy="886" rx="4" ry="4" stroke-width="2.84"/>
<path d="M809.3,895.5 L874.7,889.7" stroke-width="3.41"/>
<path d="M852.9,892.0 L854.0,942.5" stroke-width="3.69"/>
<path d="M916.5,881.3 C918.2,883.0 920.5,889.1 926.9,891.7 C933.3,894.3 945.5,895.1 954.8,896.9 C964.1,898.6 973.9,900.5 982.7,902.0 C991.5,903.5 999.2,904.8 1007.5,906.1 C1015.8,907.5 1024.0,908.9 1032.3,910.3 C1040.6,911.7 1048.8,913.0 1057.1,914.4 C1065.4,915.8 1073.6,917.2 1081.9,918.6 C1090.2,919.9 1099.9,922.7 1106.7,922.7 C1113.5,922.7 1119.0,921.0 1123.0,918.5 C1127.0,916.0 1129.5,910.2 1131.0,908.0 C1132.5,905.8 1132.1,905.7 1132.3,905.2" stroke-width="3.69"/>
<path d="M918.0,886.0 C919.8,887.6 922.5,893.0 929.0,895.5 C935.5,898.0 947.7,899.0 957.0,900.8 C966.3,902.5 976.3,904.4 985.0,906.0 C993.7,907.6 1001.0,908.7 1009.0,910.1 C1017.0,911.5 1025.0,912.8 1033.0,914.2 C1041.0,915.6 1049.0,916.9 1057.0,918.3 C1065.0,919.7 1073.0,921.0 1081.0,922.4 C1089.0,923.8 1098.3,926.1 1105.0,926.5 C1111.7,926.9 1118.3,925.0 1121.0,924.7" stroke-width="2.56"/>
<path d="M979.6,917.5 L1040.5,926.8 L1040.5,941.3 L979.6,931.0 Z" stroke-width="3.69"/>
<path d="M831.9,948.0 C834.7,947.7 843.1,946.8 848.8,946.1 C854.4,945.5 862.0,946.9 865.6,944.3 C869.2,941.7 868.5,933.2 870.6,930.5 C872.7,927.8 875.1,928.2 878.0,928.0 C880.9,927.8 883.0,928.3 888.0,929.3 C893.0,930.3 900.4,932.5 908.3,934.0 C916.2,935.5 926.4,936.9 935.5,938.4 C944.5,939.9 953.6,941.4 962.6,942.9 C971.7,944.3 980.8,945.8 989.8,947.3 C998.9,948.8 1008.3,950.2 1017.0,951.7 C1025.7,953.2 1033.6,954.7 1041.9,956.2 C1050.3,957.6 1058.6,959.1 1066.9,960.6 C1075.2,962.1 1083.5,963.6 1091.8,965.1 C1100.1,966.6 1108.4,968.1 1116.8,969.5 C1125.1,971.0 1135.9,972.2 1141.7,974.0 C1147.5,975.8 1149.8,977.3 1151.7,980.4 C1153.6,983.5 1151.5,989.1 1153.0,992.8 C1154.5,996.5 1159.2,1001.1 1160.4,1002.8" stroke-width="3.98"/>
<path d="M828.0,955.5 C831.1,955.4 840.5,955.1 846.8,954.9 C853.1,954.7 859.6,953.9 865.6,954.3 C871.6,954.7 877.1,956.2 882.8,957.1 C888.5,958.0 892.3,958.5 900.0,959.9 C907.7,961.3 919.3,963.7 928.9,965.6 C938.6,967.5 948.2,969.4 957.9,971.2 C967.5,973.1 977.1,975.0 986.8,976.9 C996.4,978.8 1006.0,980.6 1015.7,982.6 C1025.4,984.6 1035.0,986.8 1044.7,988.8 C1054.4,990.8 1064.0,992.6 1073.6,994.5 C1083.3,996.4 1092.9,998.3 1102.6,1000.1 C1112.2,1002.0 1121.8,1003.9 1131.5,1005.8 C1141.1,1007.7 1155.6,1010.6 1160.4,1011.5" stroke-width="3.98"/>
<path d="M1042.0,986.6 L1160.4,1011.5" stroke-width="3.98"/>
<path d="M1005.7,1143.0 L1163.0,1080.0" stroke-width="4.83"/>
<path d="M1049.4,1138.8 L1159.2,1099.0 L1159.2,1085.0" stroke-width="4.26"/>
<path d="M1167.4,499.0 L1177.0,500.5 L1179.0,551.6 L1169.0,550.5 Z" stroke-width="3.41"/>
<path d="M1146.0,604.0 C1146.7,603.0 1145.2,599.0 1150.0,598.0 C1154.8,597.0 1168.7,597.2 1175.0,598.0 C1181.3,598.8 1185.2,600.2 1188.0,603.0 C1190.8,605.8 1192.2,610.0 1192.0,615.0 C1191.8,620.0 1190.3,630.1 1187.0,633.0 C1183.7,635.9 1177.0,632.7 1172.0,632.5 C1167.0,632.3 1161.3,633.8 1157.0,632.0 C1152.7,630.2 1147.8,626.7 1146.0,622.0 C1144.2,617.3 1146.0,607.0 1146.0,604.0" stroke-width="4.83"/>
<path d="M1120.5,595.0 L1142.0,595.0 L1142.0,620.0 L1120.5,619.0 Z" stroke-width="5.11"/>
<ellipse cx="1107" cy="603" rx="4.5" ry="6" stroke-width="3.41"/>
<ellipse cx="1175.4" cy="679.2" rx="5.5" ry="7.5" stroke-width="3.41" transform="rotate(-10 1175.4 679.2)"/>
<path d="M1143.6,724.8 L1162.4,729.8 L1163.6,763.6 L1144.8,761.1 Z" stroke-width="3.41"/>
<path d="M1119,737 L1150,729 L1155,747 L1123,756 Z" stroke-width="3.41" fill="#fff"/>
<ellipse cx="1121" cy="746.5" rx="4" ry="8.5" stroke-width="3.41" fill="#fff" transform="rotate(-15 1121 746.5)"/>
<path d="M1127,734 Q1124,744 1130,754 M1133,732.5 Q1130,742 1136,752.5 M1139,731 Q1136,741 1142,751 M1145,729.5 Q1142,739 1148,749.5" stroke-width="2.56"/>
<ellipse cx="1151" cy="739" rx="4" ry="8.5" stroke-width="3.12" transform="rotate(-15 1151 739)"/>
<path d="M147.0,499.0 C147.9,501.9 151.7,510.8 152.3,516.7 C152.9,522.6 152.0,528.5 150.8,534.4 C149.6,540.3 148.1,546.5 144.9,552.1 C141.7,557.8 136.3,563.4 131.6,568.3 C126.9,573.2 122.1,577.4 116.9,581.6 C111.7,585.8 103.3,591.4 100.6,593.4" stroke-width="3.69"/><path d="M158.0,500.0 C158.8,503.8 162.1,515.9 162.6,522.6 C163.1,529.3 162.6,534.6 161.1,540.3 C159.6,545.9 156.9,551.6 153.7,556.5 C150.5,561.4 146.8,564.9 141.9,569.8 C137.0,574.7 129.8,580.8 124.2,586.0 C118.5,591.2 110.7,598.3 108.0,600.8" stroke-width="3.69"/><path d="M152.4,518.2 L161.9,517.5 M150.9,534.1 L162.0,536.3 M146.3,549.4 L155.5,553.5 M137.1,562.4 L143.5,568.2 M126.0,573.8 L131.3,579.6 M113.7,584.1 L118.8,590.9 " stroke-width="3.12"/>
<ellipse cx="104" cy="597.5" rx="4.5" ry="4" stroke-width="3.12" transform="rotate(-35 104 597.5)"/>
<path d="M621.0,546.0 C621.8,545.6 623.4,542.7 626.0,543.6 C628.6,544.5 631.0,549.3 636.7,551.5 C642.4,553.7 655.5,555.0 660.3,556.7 C665.1,558.5 664.2,556.5 665.5,562.0 C666.8,567.5 667.4,581.6 668.0,590.0 C668.6,598.4 668.9,605.0 669.4,612.5 C669.9,620.0 670.6,631.2 670.8,635.0" stroke-width="3.41"/>
<path d="M636.0,546.0 C638.3,546.3 645.3,547.0 650.0,548.0 C654.7,549.0 660.7,550.3 664.0,552.0 C667.3,553.7 668.8,554.3 670.0,558.0 C671.2,561.7 671.0,568.7 671.5,574.0 C672.0,579.3 672.7,584.2 673.0,590.0 C673.3,595.8 673.3,602.7 673.5,609.0 C673.7,615.3 673.9,624.8 674.0,628.0" stroke-width="2.56"/>
<path d="M673.0,606.0 C674.3,605.7 678.8,606.1 681.0,604.0 C683.2,601.9 683.4,596.0 686.5,593.4 C689.6,590.8 696.1,587.8 699.6,588.2 C703.1,588.6 705.8,593.0 707.5,596.0 C709.2,599.0 710.5,602.6 710.1,606.5 C709.7,610.4 704.9,615.2 704.9,619.6 C704.9,624.0 708.8,627.5 710.1,632.7 C711.4,638.0 712.0,643.9 712.7,651.1 C713.4,658.3 713.6,667.7 714.0,676.0 C714.5,684.3 715.7,694.9 715.4,700.9 C715.1,706.9 712.6,710.1 712.0,712.0" stroke-width="3.69"/>
<ellipse cx="700" cy="594" rx="4.5" ry="3.5" stroke-width="3.12"/>
<path d="M681.5,708.0 L682.5,818.0" stroke-width="2.56"/>
<path d="M685.0,706.0 L686.0,816.0" stroke-width="2.56"/>
<path d="M645.0,592.0 L649.0,712.0" stroke-width="2.56"/>
<path d="M631.5,748.0 L645.0,745.0 L649.8,752.0 L640.0,761.0" stroke-width="3.12"/>
</g></svg></body></html>
